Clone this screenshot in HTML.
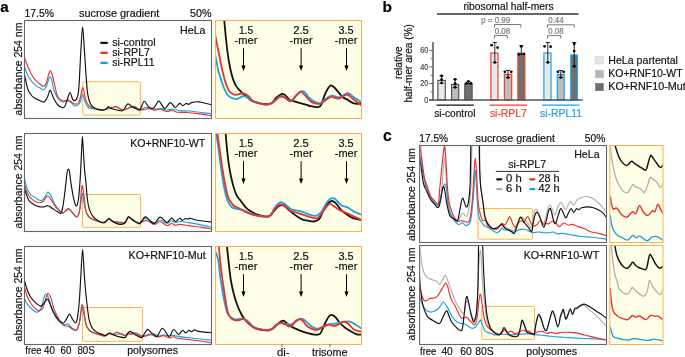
<!DOCTYPE html>
<html><head><meta charset="utf-8"><style>
html,body{margin:0;padding:0;background:#fff;width:685px;height:357px;overflow:hidden;}
svg{display:block;will-change:transform;}
text{font-family:"Liberation Sans", sans-serif;stroke:currentColor;stroke-width:0.18px;}
</style></head><body>
<svg width="685" height="357" viewBox="0 0 685 357" font-family='"Liberation Sans", sans-serif'><defs><clipPath id="cam0"><rect x="25" y="21" width="186" height="97"/></clipPath><clipPath id="car0"><rect x="216" y="21" width="145" height="97"/></clipPath><clipPath id="cam1"><rect x="25" y="134" width="186" height="97"/></clipPath><clipPath id="car1"><rect x="216" y="134" width="145" height="97"/></clipPath><clipPath id="cam2"><rect x="25" y="247" width="186" height="97"/></clipPath><clipPath id="car2"><rect x="216" y="247" width="145" height="97"/></clipPath><clipPath id="cc1"><rect x="420.3" y="146" width="185.6" height="96"/></clipPath><clipPath id="cc2"><rect x="420.3" y="246" width="185.6" height="97.8"/></clipPath><clipPath id="ccr1"><rect x="610.3" y="146" width="52.2" height="96"/></clipPath><clipPath id="ccr2"><rect x="610.3" y="246" width="52.2" height="97.8"/></clipPath></defs><text x="0.2" y="11.6" font-size="15.2" text-anchor="start" fill="#000" style="color:#000" font-weight="bold" >a</text>
<text x="24.5" y="17" font-size="10.3" text-anchor="start" fill="#111" style="color:#111" font-weight="normal"  textLength="29.50" lengthAdjust="spacingAndGlyphs">17.5%</text>
<text x="79.0" y="17" font-size="10.3" text-anchor="start" fill="#111" style="color:#111" font-weight="normal"  textLength="80.30" lengthAdjust="spacingAndGlyphs">sucrose gradient</text>
<text x="190.0" y="17" font-size="10.3" text-anchor="start" fill="#111" style="color:#111" font-weight="normal"  textLength="21.50" lengthAdjust="spacingAndGlyphs">50%</text>
<rect x="215.5" y="20.5" width="146" height="98" fill="#FFFFE8" stroke="#FBB24E" stroke-width="1" rx="0" />
<text x="22" y="69" font-size="10.5" text-anchor="middle" fill="#111" style="color:#111" font-weight="normal" transform="rotate(-90 22 69)" >absorbance 254 nm</text>
<rect x="215.5" y="133.5" width="146" height="98" fill="#FFFFE8" stroke="#FBB24E" stroke-width="1" rx="0" />
<text x="22" y="182" font-size="10.5" text-anchor="middle" fill="#111" style="color:#111" font-weight="normal" transform="rotate(-90 22 182)" >absorbance 254 nm</text>
<rect x="215.5" y="246.5" width="146" height="98" fill="#FFFFE8" stroke="#FBB24E" stroke-width="1" rx="0" />
<text x="22" y="295" font-size="10.5" text-anchor="middle" fill="#111" style="color:#111" font-weight="normal" transform="rotate(-90 22 295)" >absorbance 254 nm</text>
<rect x="82.8" y="81.8" width="57.6" height="33.2" fill="#FFFFE8" stroke="#FBB24E" stroke-width="1" rx="1" />
<rect x="82.6" y="194.5" width="58" height="32.8" fill="#FFFFE8" stroke="#FBB24E" stroke-width="1" rx="1" />
<rect x="82.6" y="307.5" width="60" height="33.8" fill="#FFFFE8" stroke="#FBB24E" stroke-width="1" rx="1" />
<path d="M24.40,66.00 C24.93,67.50 26.37,72.43 27.60,75.00 C28.83,77.57 30.40,79.63 31.80,81.40 C33.20,83.17 34.63,84.50 36.00,85.60 C37.37,86.70 38.72,87.30 40.00,88.00 C41.28,88.70 42.62,90.13 43.70,89.80 C44.78,89.47 45.70,87.63 46.50,86.00 C47.30,84.37 47.92,81.58 48.50,80.00 C49.08,78.42 49.45,76.50 50.00,76.50 C50.55,76.50 51.23,77.98 51.80,80.00 C52.37,82.02 52.87,86.48 53.40,88.60 C53.93,90.72 54.25,91.03 55.00,92.70 C55.75,94.37 56.60,97.05 57.90,98.60 C59.20,100.15 61.17,101.67 62.80,102.00 C64.43,102.33 66.33,100.52 67.70,100.60 C69.07,100.68 69.85,101.60 71.00,102.50 C72.15,103.40 73.18,105.83 74.60,106.00 C76.02,106.17 78.40,104.83 79.50,103.50 C80.60,102.17 80.68,99.55 81.20,98.00 C81.72,96.45 82.13,94.20 82.60,94.20 C83.07,94.20 83.53,96.62 84.00,98.00 C84.47,99.38 84.68,100.92 85.40,102.50 C86.12,104.08 87.32,106.52 88.30,107.50 C89.28,108.48 90.02,108.10 91.30,108.40 C92.58,108.70 94.50,109.03 96.00,109.30 C97.50,109.57 98.73,109.97 100.30,110.00 C101.87,110.03 103.78,109.75 105.40,109.50 C107.02,109.25 108.23,108.92 110.00,108.50 C111.77,108.08 114.33,106.92 116.00,107.00 C117.67,107.08 118.50,108.58 120.00,109.00 C121.50,109.42 123.50,109.75 125.00,109.50 C126.50,109.25 127.40,108.03 129.00,107.50 C130.60,106.97 133.27,106.22 134.60,106.30 C135.93,106.38 136.07,107.47 137.00,108.00 C137.93,108.53 138.92,109.53 140.20,109.50 C141.48,109.47 143.20,108.08 144.70,107.80 C146.20,107.52 147.52,107.55 149.20,107.80 C150.88,108.05 152.93,109.22 154.80,109.30 C156.67,109.38 158.55,108.18 160.40,108.30 C162.25,108.42 163.85,109.88 165.90,110.00 C167.95,110.12 170.42,108.88 172.70,109.00 C174.98,109.12 176.82,110.37 179.60,110.70 C182.38,111.03 186.13,110.73 189.40,111.00 C192.67,111.27 195.60,111.87 199.20,112.30 C202.80,112.73 209.03,113.38 211.00,113.60" fill="none" stroke="#1BA1E2" stroke-width="1.15" stroke-linejoin="round" stroke-linecap="round" clip-path="url(#cam0)"/>
<path d="M24.40,57.60 C24.93,59.00 26.37,63.10 27.60,66.00 C28.83,68.90 30.40,72.55 31.80,75.00 C33.20,77.45 34.60,79.17 36.00,80.70 C37.40,82.23 38.92,83.27 40.20,84.20 C41.48,85.13 42.70,86.42 43.70,86.30 C44.70,86.18 45.40,85.38 46.20,83.50 C47.00,81.62 47.80,77.10 48.50,75.00 C49.20,72.90 49.77,70.90 50.40,70.90 C51.03,70.90 51.67,73.02 52.30,75.00 C52.93,76.98 53.42,79.52 54.20,82.80 C54.98,86.08 56.05,91.98 57.00,94.70 C57.95,97.42 58.77,98.03 59.90,99.10 C61.03,100.17 62.50,100.93 63.80,101.10 C65.10,101.27 66.55,100.02 67.70,100.10 C68.85,100.18 69.55,100.95 70.70,101.60 C71.85,102.25 73.30,103.77 74.60,104.00 C75.90,104.23 77.52,104.22 78.50,103.00 C79.48,101.78 79.82,99.27 80.50,96.70 C81.18,94.13 81.95,88.10 82.60,87.60 C83.25,87.10 83.77,91.37 84.40,93.70 C85.03,96.03 85.58,99.55 86.40,101.60 C87.22,103.65 88.32,105.02 89.30,106.00 C90.28,106.98 91.18,107.08 92.30,107.50 C93.42,107.92 94.67,108.08 96.00,108.50 C97.33,108.92 98.73,109.88 100.30,110.00 C101.87,110.12 104.12,109.57 105.40,109.20 C106.68,108.83 107.23,108.00 108.00,107.80 C108.77,107.60 109.17,108.05 110.00,108.00 C110.83,107.95 111.97,107.78 113.00,107.50 C114.03,107.22 115.02,106.03 116.20,106.30 C117.38,106.57 118.70,108.53 120.10,109.10 C121.50,109.67 123.12,109.88 124.60,109.70 C126.08,109.52 127.52,108.47 129.00,108.00 C130.48,107.53 132.18,106.80 133.50,106.90 C134.82,107.00 135.78,108.08 136.90,108.60 C138.02,109.12 138.90,109.88 140.20,110.00 C141.50,110.12 143.20,109.53 144.70,109.30 C146.20,109.07 147.52,108.45 149.20,108.60 C150.88,108.75 152.93,110.08 154.80,110.20 C156.67,110.32 158.38,109.08 160.40,109.30 C162.42,109.52 164.92,111.33 166.90,111.50 C168.88,111.67 170.52,110.17 172.30,110.30 C174.08,110.43 175.07,111.93 177.60,112.30 C180.13,112.67 183.90,112.23 187.50,112.50 C191.10,112.77 195.28,113.38 199.20,113.90 C203.12,114.42 209.03,115.32 211.00,115.60" fill="none" stroke="#E8322B" stroke-width="1.15" stroke-linejoin="round" stroke-linecap="round" clip-path="url(#cam0)"/>
<path d="M24.40,74.40 C24.93,76.73 26.60,85.13 27.60,88.40 C28.60,91.67 29.33,92.43 30.40,94.00 C31.47,95.57 32.55,96.75 34.00,97.80 C35.45,98.85 37.40,99.60 39.10,100.30 C40.80,101.00 42.80,102.55 44.20,102.00 C45.60,101.45 46.53,98.95 47.50,97.00 C48.47,95.05 49.20,90.63 50.00,90.30 C50.80,89.97 51.55,93.38 52.30,95.00 C53.05,96.62 53.57,98.33 54.50,100.00 C55.43,101.67 56.67,103.75 57.90,105.00 C59.13,106.25 60.75,107.25 61.90,107.50 C63.05,107.75 63.90,107.82 64.80,106.50 C65.70,105.18 66.45,101.93 67.30,99.60 C68.15,97.27 69.02,92.58 69.90,92.50 C70.78,92.42 71.73,97.75 72.60,99.10 C73.47,100.45 74.28,101.00 75.10,100.60 C75.92,100.20 76.85,99.15 77.50,96.70 C78.15,94.25 78.45,93.35 79.00,85.90 C79.55,78.45 80.20,61.82 80.80,52.00 C81.40,42.18 81.98,27.00 82.60,27.00 C83.22,27.00 83.87,43.17 84.50,52.00 C85.13,60.83 85.85,72.88 86.40,80.00 C86.95,87.12 87.15,90.78 87.80,94.70 C88.45,98.62 89.23,101.30 90.30,103.50 C91.37,105.70 92.80,106.88 94.20,107.90 C95.60,108.92 97.12,109.25 98.70,109.60 C100.28,109.95 102.40,110.18 103.70,110.00 C105.00,109.82 105.67,109.05 106.50,108.50 C107.33,107.95 107.78,106.67 108.70,106.70 C109.62,106.73 110.48,108.12 112.00,108.70 C113.52,109.28 116.08,109.85 117.80,110.20 C119.52,110.55 121.18,111.08 122.30,110.80 C123.42,110.52 123.57,109.65 124.50,108.50 C125.43,107.35 126.58,104.17 127.90,103.90 C129.22,103.63 130.82,106.03 132.40,106.90 C133.98,107.77 136.10,108.63 137.40,109.10 C138.70,109.57 139.07,111.00 140.20,109.70 C141.33,108.40 142.80,101.77 144.20,101.30 C145.60,100.83 147.02,105.78 148.60,106.90 C150.18,108.02 152.10,108.93 153.70,108.00 C155.30,107.07 157.07,102.17 158.20,101.30 C159.33,100.43 159.38,101.60 160.50,102.80 C161.62,104.00 163.27,108.53 164.90,108.50 C166.53,108.47 168.58,102.77 170.30,102.60 C172.02,102.43 173.65,107.37 175.20,107.50 C176.75,107.63 178.35,103.72 179.60,103.40 C180.85,103.08 181.55,105.60 182.70,105.60 C183.85,105.60 185.47,103.60 186.50,103.40 C187.53,103.20 188.08,104.53 188.90,104.40 C189.72,104.27 190.00,103.05 191.40,102.60 C192.80,102.15 195.50,101.72 197.30,101.70 C199.10,101.68 200.57,102.15 202.20,102.50 C203.83,102.85 205.63,103.45 207.10,103.80 C208.57,104.15 210.35,104.47 211.00,104.60" fill="none" stroke="#111" stroke-width="1.15" stroke-linejoin="round" stroke-linecap="round" clip-path="url(#cam0)"/>
<path d="M24.90,180.10 C25.25,181.50 26.08,186.13 27.00,188.50 C27.92,190.87 29.00,192.77 30.40,194.30 C31.80,195.83 33.58,196.63 35.40,197.70 C37.22,198.77 39.62,200.98 41.30,200.70 C42.98,200.42 44.38,197.43 45.50,196.00 C46.62,194.57 47.02,191.97 48.00,192.10 C48.98,192.23 50.28,194.75 51.40,196.80 C52.52,198.85 53.45,202.22 54.70,204.40 C55.95,206.58 57.63,208.50 58.90,209.90 C60.17,211.30 61.28,212.53 62.30,212.80 C63.32,213.07 63.87,212.07 65.00,211.50 C66.13,210.93 67.83,209.15 69.10,209.40 C70.37,209.65 71.32,211.72 72.60,213.00 C73.88,214.28 75.68,217.27 76.80,217.10 C77.92,216.93 78.60,214.45 79.30,212.00 C80.00,209.55 80.48,205.52 81.00,202.40 C81.52,199.28 81.82,192.83 82.40,193.30 C82.98,193.77 83.68,201.58 84.50,205.20 C85.32,208.82 86.38,212.87 87.30,215.00 C88.22,217.13 88.72,217.12 90.00,218.00 C91.28,218.88 93.00,219.58 95.00,220.30 C97.00,221.02 100.33,222.05 102.00,222.30 C103.67,222.55 103.85,222.48 105.00,221.80 C106.15,221.12 107.60,218.33 108.90,218.20 C110.20,218.07 111.22,220.37 112.80,221.00 C114.38,221.63 116.53,221.75 118.40,222.00 C120.27,222.25 122.78,222.67 124.00,222.50 C125.22,222.33 124.95,221.97 125.70,221.00 C126.45,220.03 127.28,216.95 128.50,216.70 C129.72,216.45 131.32,218.53 133.00,219.50 C134.68,220.47 137.27,222.12 138.60,222.50 C139.93,222.88 139.88,222.47 141.00,221.80 C142.12,221.13 143.83,218.72 145.30,218.50 C146.77,218.28 148.18,219.77 149.80,220.50 C151.42,221.23 153.25,222.98 155.00,222.90 C156.75,222.82 158.33,219.90 160.30,220.00 C162.27,220.10 164.93,223.37 166.80,223.50 C168.67,223.63 170.03,220.97 171.50,220.80 C172.97,220.63 174.23,222.38 175.60,222.50 C176.97,222.62 177.25,221.43 179.70,221.50 C182.15,221.57 186.58,222.30 190.30,222.90 C194.02,223.50 198.47,224.35 202.00,225.10 C205.53,225.85 209.92,227.02 211.50,227.40" fill="none" stroke="#1BA1E2" stroke-width="1.15" stroke-linejoin="round" stroke-linecap="round" clip-path="url(#cam1)"/>
<path d="M24.90,185.10 C25.25,186.37 25.80,190.32 27.00,192.70 C28.20,195.08 30.13,197.73 32.10,199.40 C34.07,201.07 36.98,202.35 38.80,202.70 C40.62,203.05 41.55,202.62 43.00,201.50 C44.45,200.38 46.10,196.22 47.50,196.00 C48.90,195.78 50.05,198.38 51.40,200.20 C52.75,202.02 54.07,204.95 55.60,206.90 C57.13,208.85 59.35,210.88 60.60,211.90 C61.85,212.92 62.20,213.30 63.10,213.00 C64.00,212.70 65.00,210.82 66.00,210.10 C67.00,209.38 68.00,208.23 69.10,208.70 C70.20,209.17 71.32,211.57 72.60,212.90 C73.88,214.23 75.63,217.05 76.80,216.70 C77.97,216.35 78.85,215.05 79.60,210.80 C80.35,206.55 80.83,195.40 81.30,191.20 C81.77,187.00 81.93,184.67 82.40,185.60 C82.87,186.53 83.52,192.60 84.10,196.80 C84.68,201.00 85.02,207.42 85.90,210.80 C86.78,214.18 87.88,215.52 89.40,217.10 C90.92,218.68 92.90,219.37 95.00,220.30 C97.10,221.23 100.33,222.37 102.00,222.70 C103.67,223.03 103.85,222.93 105.00,222.30 C106.15,221.67 107.60,219.05 108.90,218.90 C110.20,218.75 111.22,220.77 112.80,221.40 C114.38,222.03 116.53,222.37 118.40,222.70 C120.27,223.03 122.78,223.53 124.00,223.40 C125.22,223.27 124.95,222.90 125.70,221.90 C126.45,220.90 127.28,217.63 128.50,217.40 C129.72,217.17 131.32,219.47 133.00,220.50 C134.68,221.53 137.30,223.18 138.60,223.60 C139.90,224.02 139.68,223.52 140.80,223.00 C141.92,222.48 143.80,220.68 145.30,220.50 C146.80,220.32 148.30,221.23 149.80,221.90 C151.30,222.57 152.55,224.52 154.30,224.50 C156.05,224.48 158.22,221.63 160.30,221.80 C162.38,221.97 164.93,225.22 166.80,225.50 C168.67,225.78 170.03,223.53 171.50,223.50 C172.97,223.47 174.23,225.15 175.60,225.30 C176.97,225.45 177.25,224.30 179.70,224.40 C182.15,224.50 186.58,225.40 190.30,225.90 C194.02,226.40 198.47,226.87 202.00,227.40 C205.53,227.93 209.92,228.82 211.50,229.10" fill="none" stroke="#E8322B" stroke-width="1.15" stroke-linejoin="round" stroke-linecap="round" clip-path="url(#cam1)"/>
<path d="M24.90,190.10 C25.53,191.78 27.23,197.82 28.70,200.20 C30.17,202.58 32.02,203.33 33.70,204.40 C35.38,205.47 37.12,206.18 38.80,206.60 C40.48,207.02 42.27,207.05 43.80,206.90 C45.33,206.75 46.60,205.47 48.00,205.70 C49.40,205.93 50.67,207.32 52.20,208.30 C53.73,209.28 55.73,210.77 57.20,211.60 C58.67,212.43 60.07,214.07 61.00,213.30 C61.93,212.53 62.22,210.05 62.80,207.00 C63.38,203.95 63.98,199.00 64.50,195.00 C65.02,191.00 65.45,186.83 65.90,183.00 C66.35,179.17 66.78,174.32 67.20,172.00 C67.62,169.68 68.00,169.10 68.40,169.10 C68.80,169.10 69.25,170.18 69.60,172.00 C69.95,173.82 69.88,175.87 70.50,180.00 C71.12,184.13 72.37,192.48 73.30,196.80 C74.23,201.12 75.28,205.20 76.10,205.90 C76.92,206.60 77.62,204.15 78.20,201.00 C78.78,197.85 79.18,192.17 79.60,187.00 C80.02,181.83 80.37,176.17 80.70,170.00 C81.03,163.83 81.32,155.58 81.60,150.00 C81.88,144.42 82.12,136.50 82.40,136.50 C82.68,136.50 82.93,144.42 83.30,150.00 C83.67,155.58 84.17,164.67 84.60,170.00 C85.03,175.33 85.45,177.30 85.90,182.00 C86.35,186.70 86.72,193.63 87.30,198.20 C87.88,202.77 88.47,206.37 89.40,209.40 C90.33,212.43 91.50,214.53 92.90,216.40 C94.30,218.27 96.05,219.55 97.80,220.60 C99.55,221.65 102.03,222.55 103.40,222.70 C104.77,222.85 105.08,222.12 106.00,221.50 C106.92,220.88 107.77,218.95 108.90,219.00 C110.03,219.05 111.58,221.07 112.80,221.80 C114.02,222.53 114.70,222.95 116.20,223.40 C117.70,223.85 120.22,224.73 121.80,224.50 C123.38,224.27 124.58,223.27 125.70,222.00 C126.82,220.73 127.28,217.18 128.50,216.90 C129.72,216.62 131.32,219.18 133.00,220.30 C134.68,221.42 137.30,223.23 138.60,223.60 C139.90,223.97 139.68,223.62 140.80,222.50 C141.92,221.38 143.80,217.23 145.30,216.90 C146.80,216.57 148.30,219.42 149.80,220.50 C151.30,221.58 152.55,223.97 154.30,223.40 C156.05,222.83 158.22,217.27 160.30,217.10 C162.38,216.93 164.93,222.22 166.80,222.40 C168.67,222.58 170.03,218.35 171.50,218.20 C172.97,218.05 174.23,221.50 175.60,221.50 C176.97,221.50 178.58,218.38 179.70,218.20 C180.82,218.02 181.32,220.35 182.30,220.40 C183.28,220.45 184.67,218.70 185.60,218.50 C186.53,218.30 187.12,219.25 187.90,219.20 C188.68,219.15 188.92,218.07 190.30,218.20 C191.68,218.33 193.85,219.50 196.20,220.00 C198.55,220.50 201.85,220.87 204.40,221.20 C206.95,221.53 210.32,221.87 211.50,222.00" fill="none" stroke="#111" stroke-width="1.15" stroke-linejoin="round" stroke-linecap="round" clip-path="url(#cam1)"/>
<path d="M24.90,299.40 C25.25,300.10 25.80,301.93 27.00,303.60 C28.20,305.27 30.42,307.95 32.10,309.40 C33.78,310.85 35.57,312.57 37.10,312.30 C38.63,312.03 40.18,310.23 41.30,307.80 C42.42,305.37 43.10,299.95 43.80,297.70 C44.50,295.45 44.67,294.17 45.50,294.30 C46.33,294.43 47.55,295.55 48.80,298.50 C50.05,301.45 51.45,308.37 53.00,312.00 C54.55,315.63 56.42,318.22 58.10,320.30 C59.78,322.38 61.38,323.83 63.10,324.50 C64.82,325.17 66.82,323.63 68.40,324.30 C69.98,324.97 71.20,327.57 72.60,328.50 C74.00,329.43 75.63,330.98 76.80,329.90 C77.97,328.82 78.87,324.98 79.60,322.00 C80.33,319.02 80.73,314.42 81.20,312.00 C81.67,309.58 81.93,307.00 82.40,307.50 C82.87,308.00 83.30,311.85 84.00,315.00 C84.70,318.15 85.23,323.57 86.60,326.40 C87.97,329.23 90.10,330.65 92.20,332.00 C94.30,333.35 97.07,333.87 99.20,334.50 C101.33,335.13 103.28,336.05 105.00,335.80 C106.72,335.55 107.82,333.18 109.50,333.00 C111.18,332.82 113.23,334.60 115.10,334.70 C116.97,334.80 119.02,333.52 120.70,333.60 C122.38,333.68 123.90,335.30 125.20,335.20 C126.50,335.10 127.37,333.27 128.50,333.00 C129.63,332.73 130.68,333.60 132.00,333.60 C133.32,333.60 134.73,332.63 136.40,333.00 C138.07,333.37 140.13,335.52 142.00,335.80 C143.87,336.08 145.93,335.02 147.60,334.70 C149.27,334.38 150.77,333.98 152.00,333.90 C153.23,333.82 153.92,333.82 155.00,334.20 C156.08,334.58 157.13,336.07 158.50,336.20 C159.87,336.33 161.43,335.07 163.20,335.00 C164.97,334.93 167.33,335.70 169.10,335.80 C170.87,335.90 171.25,335.33 173.80,335.60 C176.35,335.87 180.67,336.92 184.40,337.40 C188.13,337.88 191.68,338.02 196.20,338.50 C200.72,338.98 208.95,340.00 211.50,340.30" fill="none" stroke="#1BA1E2" stroke-width="1.15" stroke-linejoin="round" stroke-linecap="round" clip-path="url(#cam2)"/>
<path d="M24.90,288.50 C25.25,289.75 26.08,293.63 27.00,296.00 C27.92,298.37 29.00,300.60 30.40,302.70 C31.80,304.80 33.87,307.25 35.40,308.60 C36.93,309.95 38.33,310.93 39.60,310.80 C40.87,310.67 41.88,310.13 43.00,307.80 C44.12,305.47 45.42,299.18 46.30,296.80 C47.18,294.42 47.45,293.07 48.30,293.50 C49.15,293.93 50.47,296.88 51.40,299.40 C52.33,301.92 52.78,305.53 53.90,308.60 C55.02,311.67 56.70,315.28 58.10,317.80 C59.50,320.32 61.28,322.38 62.30,323.70 C63.32,325.02 63.18,325.25 64.20,325.70 C65.22,326.15 67.00,325.82 68.40,326.40 C69.80,326.98 71.20,328.62 72.60,329.20 C74.00,329.78 75.63,331.30 76.80,329.90 C77.97,328.50 78.85,324.42 79.60,320.80 C80.35,317.18 80.83,310.88 81.30,308.20 C81.77,305.52 81.98,304.47 82.40,304.70 C82.82,304.93 83.22,306.45 83.80,309.60 C84.38,312.75 84.97,320.10 85.90,323.60 C86.83,327.10 87.88,328.97 89.40,330.60 C90.92,332.23 92.90,332.58 95.00,333.40 C97.10,334.22 100.33,335.05 102.00,335.50 C103.67,335.95 103.75,336.42 105.00,336.10 C106.25,335.78 108.20,333.83 109.50,333.60 C110.80,333.37 111.58,334.95 112.80,334.70 C114.02,334.45 115.48,332.23 116.80,332.10 C118.12,331.97 119.30,333.28 120.70,333.90 C122.10,334.52 123.90,335.77 125.20,335.80 C126.50,335.83 127.38,334.38 128.50,334.10 C129.62,333.82 130.87,334.28 131.90,334.10 C132.93,333.92 133.58,332.82 134.70,333.00 C135.82,333.18 137.38,334.60 138.60,335.20 C139.82,335.80 140.50,336.55 142.00,336.60 C143.50,336.65 146.12,335.82 147.60,335.50 C149.08,335.18 149.60,334.55 150.90,334.70 C152.20,334.85 154.13,336.02 155.40,336.40 C156.67,336.78 157.20,337.13 158.50,337.00 C159.80,336.87 161.43,335.45 163.20,335.60 C164.97,335.75 167.33,337.70 169.10,337.90 C170.87,338.10 172.23,336.70 173.80,336.80 C175.37,336.90 175.75,338.02 178.50,338.50 C181.25,338.98 186.38,339.25 190.30,339.70 C194.22,340.15 198.47,340.67 202.00,341.20 C205.53,341.73 209.92,342.62 211.50,342.90" fill="none" stroke="#E8322B" stroke-width="1.15" stroke-linejoin="round" stroke-linecap="round" clip-path="url(#cam2)"/>
<path d="M24.90,281.70 C25.25,282.97 26.08,286.78 27.00,289.30 C27.92,291.82 29.00,294.57 30.40,296.80 C31.80,299.03 33.72,301.15 35.40,302.70 C37.08,304.25 39.23,305.82 40.50,306.10 C41.77,306.38 42.03,305.43 43.00,304.40 C43.97,303.37 45.47,300.73 46.30,299.90 C47.13,299.07 47.30,298.52 48.00,299.40 C48.70,300.28 49.52,302.97 50.50,305.20 C51.48,307.43 52.63,310.42 53.90,312.80 C55.17,315.18 56.92,317.97 58.10,319.50 C59.28,321.03 60.10,321.43 61.00,322.00 C61.90,322.57 62.62,323.33 63.50,322.90 C64.38,322.47 65.30,320.87 66.30,319.40 C67.30,317.93 68.45,314.10 69.50,314.10 C70.55,314.10 71.50,318.00 72.60,319.40 C73.70,320.80 75.17,323.67 76.10,322.50 C77.03,321.33 77.62,316.65 78.20,312.40 C78.78,308.15 79.15,303.23 79.60,297.00 C80.05,290.77 80.40,282.92 80.90,275.00 C81.40,267.08 82.03,249.50 82.60,249.50 C83.17,249.50 83.82,268.25 84.30,275.00 C84.78,281.75 85.00,284.70 85.50,290.00 C86.00,295.30 86.65,301.67 87.30,306.80 C87.95,311.93 88.47,317.12 89.40,320.80 C90.33,324.48 91.50,326.92 92.90,328.90 C94.30,330.88 96.05,331.72 97.80,332.70 C99.55,333.68 102.12,334.33 103.40,334.80 C104.68,335.27 104.48,335.80 105.50,335.50 C106.52,335.20 108.08,333.05 109.50,333.00 C110.92,332.95 112.32,334.55 114.00,335.20 C115.68,335.85 117.73,336.52 119.60,336.90 C121.47,337.28 123.90,338.05 125.20,337.50 C126.50,336.95 126.57,334.63 127.40,333.60 C128.23,332.57 129.17,331.30 130.20,331.30 C131.23,331.30 132.20,332.72 133.60,333.60 C135.00,334.48 137.20,335.95 138.60,336.60 C140.00,337.25 140.97,338.10 142.00,337.50 C143.03,336.90 143.87,334.35 144.80,333.00 C145.73,331.65 146.58,329.50 147.60,329.40 C148.62,329.30 149.60,331.33 150.90,332.40 C152.20,333.47 154.30,335.20 155.40,335.80 C156.50,336.40 156.30,337.25 157.50,336.00 C158.70,334.75 160.67,328.22 162.60,328.30 C164.53,328.38 167.27,336.30 169.10,336.50 C170.93,336.70 172.03,329.85 173.60,329.50 C175.17,329.15 177.00,334.27 178.50,334.40 C180.00,334.53 181.42,330.53 182.60,330.30 C183.78,330.07 184.52,333.00 185.60,333.00 C186.68,333.00 188.12,330.50 189.10,330.30 C190.08,330.10 190.62,331.87 191.50,331.80 C192.38,331.73 193.42,330.02 194.40,329.90 C195.38,329.78 195.73,330.73 197.40,331.10 C199.07,331.47 202.05,331.85 204.40,332.10 C206.75,332.35 210.32,332.52 211.50,332.60" fill="none" stroke="#111" stroke-width="1.15" stroke-linejoin="round" stroke-linecap="round" clip-path="url(#cam2)"/>
<path d="M224.10,19.00 C224.37,21.83 225.13,30.50 225.70,36.00 C226.27,41.50 226.92,47.50 227.50,52.00 C228.08,56.50 228.65,59.83 229.20,63.00 C229.75,66.17 230.13,68.23 230.80,71.00 C231.47,73.77 232.33,77.12 233.20,79.60 C234.07,82.08 234.95,84.15 236.00,85.90 C237.05,87.65 238.33,88.82 239.50,90.10 C240.67,91.38 241.72,92.43 243.00,93.60 C244.28,94.77 245.80,95.93 247.20,97.10 C248.60,98.27 249.77,99.67 251.40,100.60 C253.03,101.53 254.73,102.13 257.00,102.70 C259.27,103.27 262.63,103.90 265.00,104.00 C267.37,104.10 269.23,104.42 271.20,103.30 C273.17,102.18 274.93,98.88 276.80,97.30 C278.67,95.72 280.88,94.03 282.40,93.80 C283.92,93.57 284.73,94.92 285.90,95.90 C287.07,96.88 288.12,98.83 289.40,99.70 C290.68,100.57 291.97,100.57 293.60,101.10 C295.23,101.63 297.30,102.37 299.20,102.90 C301.10,103.43 303.10,103.77 305.00,104.30 C306.90,104.83 308.50,105.63 310.60,106.10 C312.70,106.57 315.85,107.28 317.60,107.10 C319.35,106.92 319.93,106.98 321.10,105.00 C322.27,103.02 323.43,98.00 324.60,95.20 C325.77,92.40 327.05,89.83 328.10,88.20 C329.15,86.57 329.85,85.52 330.90,85.40 C331.95,85.28 333.12,86.33 334.40,87.50 C335.68,88.67 337.20,90.77 338.60,92.40 C340.00,94.03 341.40,96.13 342.80,97.30 C344.20,98.47 345.37,98.47 347.00,99.40 C348.63,100.33 350.73,102.15 352.60,102.90 C354.47,103.65 356.72,104.07 358.20,103.90 C359.68,103.73 360.95,102.23 361.50,101.90" fill="none" stroke="#111" stroke-width="1.8" stroke-linejoin="round" stroke-linecap="round" clip-path="url(#car0)"/>
<path d="M215.40,55.80 C215.92,58.47 217.73,68.43 218.50,71.80 C219.27,75.17 219.18,73.53 220.00,76.00 C220.82,78.47 222.13,83.43 223.40,86.60 C224.67,89.77 225.97,93.02 227.60,95.00 C229.23,96.98 231.57,97.85 233.20,98.50 C234.83,99.15 235.77,99.30 237.40,98.90 C239.03,98.50 241.37,96.33 243.00,96.10 C244.63,95.87 245.57,96.63 247.20,97.50 C248.83,98.37 251.17,100.43 252.80,101.30 C254.43,102.17 254.97,102.17 257.00,102.70 C259.03,103.23 262.63,104.40 265.00,104.50 C267.37,104.60 269.37,104.05 271.20,103.30 C273.03,102.55 274.70,100.97 276.00,100.00 C277.30,99.03 277.92,98.03 279.00,97.50 C280.08,96.97 281.33,96.63 282.50,96.80 C283.67,96.97 284.85,97.83 286.00,98.50 C287.15,99.17 288.37,100.47 289.40,100.80 C290.43,101.13 291.10,101.30 292.20,100.50 C293.30,99.70 294.45,97.52 296.00,96.00 C297.55,94.48 300.00,92.00 301.50,91.40 C303.00,90.80 303.72,91.30 305.00,92.40 C306.28,93.50 307.57,96.42 309.20,98.00 C310.83,99.58 312.93,101.02 314.80,101.90 C316.67,102.78 318.53,103.83 320.40,103.30 C322.27,102.77 324.13,99.98 326.00,98.70 C327.87,97.42 329.50,95.83 331.60,95.60 C333.70,95.37 336.50,97.42 338.60,97.30 C340.70,97.18 342.57,95.60 344.20,94.90 C345.83,94.20 346.77,92.70 348.40,93.10 C350.03,93.50 351.82,95.77 354.00,97.30 C356.18,98.83 360.25,101.47 361.50,102.30" fill="none" stroke="#1BA1E2" stroke-width="1.8" stroke-linejoin="round" stroke-linecap="round" clip-path="url(#car0)"/>
<path d="M215.40,36.30 C215.92,38.85 217.43,46.32 218.50,51.60 C219.57,56.88 220.97,64.10 221.80,68.00 C222.63,71.90 222.88,72.60 223.50,75.00 C224.12,77.40 224.58,79.77 225.50,82.40 C226.42,85.03 227.72,88.82 229.00,90.80 C230.28,92.78 231.80,93.65 233.20,94.30 C234.60,94.95 236.00,94.87 237.40,94.70 C238.80,94.53 240.43,93.48 241.60,93.30 C242.77,93.12 243.23,93.13 244.40,93.60 C245.57,94.07 247.20,94.93 248.60,96.10 C250.00,97.27 251.40,99.55 252.80,100.60 C254.20,101.65 254.97,101.73 257.00,102.40 C259.03,103.07 262.63,104.45 265.00,104.60 C267.37,104.75 269.47,104.05 271.20,103.30 C272.93,102.55 274.23,101.10 275.40,100.10 C276.57,99.10 277.15,98.00 278.20,97.30 C279.25,96.60 280.53,95.78 281.70,95.90 C282.87,96.02 283.92,97.18 285.20,98.00 C286.48,98.82 288.23,100.38 289.40,100.80 C290.57,101.22 291.15,101.32 292.20,100.50 C293.25,99.68 294.30,97.37 295.70,95.90 C297.10,94.43 299.08,91.82 300.60,91.70 C302.12,91.58 303.37,93.80 304.80,95.20 C306.23,96.60 307.77,98.82 309.20,100.10 C310.63,101.38 311.53,102.32 313.40,102.90 C315.27,103.48 318.30,104.07 320.40,103.60 C322.50,103.13 324.25,101.20 326.00,100.10 C327.75,99.00 329.50,97.40 330.90,97.00 C332.30,96.60 333.12,97.42 334.40,97.70 C335.68,97.98 337.20,98.88 338.60,98.70 C340.00,98.52 341.40,97.30 342.80,96.60 C344.20,95.90 345.60,94.38 347.00,94.50 C348.40,94.62 349.80,96.25 351.20,97.30 C352.60,98.35 353.68,99.43 355.40,100.80 C357.12,102.17 360.48,104.72 361.50,105.50" fill="none" stroke="#E8322B" stroke-width="1.8" stroke-linejoin="round" stroke-linecap="round" clip-path="url(#car0)"/>
<path d="M225.50,132.00 C225.75,134.82 226.38,143.08 227.00,148.90 C227.62,154.72 228.30,161.28 229.20,166.90 C230.10,172.52 231.20,177.93 232.40,182.60 C233.60,187.27 235.05,191.92 236.40,194.90 C237.75,197.88 239.40,198.98 240.50,200.50 C241.60,202.02 241.92,202.63 243.00,204.00 C244.08,205.37 245.63,207.45 247.00,208.70 C248.37,209.95 249.80,210.63 251.20,211.50 C252.60,212.37 253.77,213.20 255.40,213.90 C257.03,214.60 259.13,215.23 261.00,215.70 C262.87,216.17 265.08,216.70 266.60,216.70 C268.12,216.70 268.93,216.57 270.10,215.70 C271.27,214.83 272.32,212.97 273.60,211.50 C274.88,210.03 276.52,207.95 277.80,206.90 C279.08,205.85 280.13,205.30 281.30,205.20 C282.47,205.10 283.52,205.48 284.80,206.30 C286.08,207.12 287.60,208.88 289.00,210.10 C290.40,211.32 291.70,212.45 293.20,213.60 C294.70,214.75 296.53,216.05 298.00,217.00 C299.47,217.95 300.40,218.68 302.00,219.30 C303.60,219.92 305.50,220.35 307.60,220.70 C309.70,221.05 312.62,221.75 314.60,221.40 C316.58,221.05 317.85,220.82 319.50,218.60 C321.15,216.38 322.97,210.75 324.50,208.10 C326.03,205.45 327.42,203.88 328.70,202.70 C329.98,201.52 331.03,200.93 332.20,201.00 C333.37,201.07 334.18,201.57 335.70,203.10 C337.22,204.63 339.43,208.32 341.30,210.20 C343.17,212.08 345.03,213.12 346.90,214.40 C348.77,215.68 350.07,216.97 352.50,217.90 C354.93,218.83 360.00,219.65 361.50,220.00" fill="none" stroke="#111" stroke-width="1.8" stroke-linejoin="round" stroke-linecap="round" clip-path="url(#car1)"/>
<path d="M216.00,132.00 C216.42,134.82 217.63,142.72 218.50,148.90 C219.37,155.08 220.27,162.75 221.20,169.10 C222.13,175.45 223.05,181.77 224.10,187.00 C225.15,192.23 226.20,197.13 227.50,200.50 C228.80,203.87 230.07,205.75 231.90,207.20 C233.73,208.65 236.45,208.65 238.50,209.20 C240.55,209.75 242.32,209.82 244.20,210.50 C246.08,211.18 247.93,212.55 249.80,213.30 C251.67,214.05 253.53,214.52 255.40,215.00 C257.27,215.48 259.13,215.92 261.00,216.20 C262.87,216.48 264.97,216.98 266.60,216.70 C268.23,216.42 269.40,216.07 270.80,214.50 C272.20,212.93 273.60,209.27 275.00,207.30 C276.40,205.33 278.15,203.57 279.20,202.70 C280.25,201.83 280.37,201.87 281.30,202.10 C282.23,202.33 283.28,203.00 284.80,204.10 C286.32,205.20 288.70,207.68 290.40,208.70 C292.10,209.72 293.07,209.72 295.00,210.20 C296.93,210.68 299.67,210.90 302.00,211.60 C304.33,212.30 306.67,213.70 309.00,214.40 C311.33,215.10 313.90,216.27 316.00,215.80 C318.10,215.33 319.72,213.95 321.60,211.60 C323.48,209.25 325.53,203.93 327.30,201.70 C329.07,199.47 330.80,198.55 332.20,198.20 C333.60,197.85 334.18,198.43 335.70,199.60 C337.22,200.77 339.20,203.83 341.30,205.20 C343.40,206.57 346.20,206.73 348.30,207.80 C350.40,208.87 351.70,210.47 353.90,211.60 C356.10,212.73 360.23,214.10 361.50,214.60" fill="none" stroke="#1BA1E2" stroke-width="1.8" stroke-linejoin="round" stroke-linecap="round" clip-path="url(#car1)"/>
<path d="M217.20,132.00 C217.60,134.82 218.72,142.72 219.60,148.90 C220.48,155.08 221.48,162.75 222.50,169.10 C223.52,175.45 224.68,182.13 225.70,187.00 C226.72,191.87 227.37,195.30 228.60,198.30 C229.83,201.30 231.53,203.42 233.10,205.00 C234.67,206.58 236.15,206.78 238.00,207.80 C239.85,208.82 242.23,210.13 244.20,211.10 C246.17,212.07 247.93,212.90 249.80,213.60 C251.67,214.30 253.53,214.83 255.40,215.30 C257.27,215.77 259.13,216.17 261.00,216.40 C262.87,216.63 264.97,216.93 266.60,216.70 C268.23,216.47 269.40,216.33 270.80,215.00 C272.20,213.67 273.72,210.33 275.00,208.70 C276.28,207.07 277.45,205.90 278.50,205.20 C279.55,204.50 280.25,204.38 281.30,204.50 C282.35,204.62 283.28,204.85 284.80,205.90 C286.32,206.95 288.53,209.70 290.40,210.80 C292.27,211.90 294.07,211.90 296.00,212.50 C297.93,213.10 299.83,213.70 302.00,214.40 C304.17,215.10 306.43,216.08 309.00,216.70 C311.57,217.32 315.07,218.95 317.40,218.10 C319.73,217.25 321.35,213.63 323.00,211.60 C324.65,209.57 326.08,207.23 327.30,205.90 C328.52,204.57 329.13,203.48 330.30,203.60 C331.47,203.72 332.70,205.50 334.30,206.60 C335.90,207.70 338.03,209.22 339.90,210.20 C341.77,211.18 343.63,211.68 345.50,212.50 C347.37,213.32 348.43,213.85 351.10,215.10 C353.77,216.35 359.77,219.18 361.50,220.00" fill="none" stroke="#E8322B" stroke-width="1.8" stroke-linejoin="round" stroke-linecap="round" clip-path="url(#car1)"/>
<path d="M226.80,245.00 C227.10,247.82 227.93,256.08 228.60,261.90 C229.27,267.72 229.87,274.28 230.80,279.90 C231.73,285.52 233.08,291.30 234.20,295.60 C235.32,299.90 236.32,302.63 237.50,305.70 C238.68,308.77 240.08,311.70 241.30,314.00 C242.52,316.30 243.52,317.88 244.80,319.50 C246.08,321.12 247.37,322.30 249.00,323.70 C250.63,325.10 252.50,326.90 254.60,327.90 C256.70,328.90 259.27,329.30 261.60,329.70 C263.93,330.10 266.73,330.48 268.60,330.30 C270.47,330.12 271.40,329.58 272.80,328.60 C274.20,327.62 275.60,325.62 277.00,324.40 C278.40,323.18 280.03,321.88 281.20,321.30 C282.37,320.72 282.83,320.38 284.00,320.90 C285.17,321.42 286.57,323.23 288.20,324.40 C289.83,325.57 291.73,326.83 293.80,327.90 C295.87,328.97 298.30,329.93 300.60,330.80 C302.90,331.67 305.27,332.47 307.60,333.10 C309.93,333.73 312.50,334.52 314.60,334.60 C316.70,334.68 318.55,335.28 320.20,333.60 C321.85,331.92 323.08,327.32 324.50,324.50 C325.92,321.68 327.50,318.30 328.70,316.70 C329.90,315.10 330.53,314.78 331.70,314.90 C332.87,315.02 334.33,316.05 335.70,317.40 C337.07,318.75 338.27,321.23 339.90,323.00 C341.53,324.77 343.63,326.58 345.50,328.00 C347.37,329.42 349.23,330.45 351.10,331.50 C352.97,332.55 354.97,333.78 356.70,334.30 C358.43,334.82 360.70,334.55 361.50,334.60" fill="none" stroke="#111" stroke-width="1.8" stroke-linejoin="round" stroke-linecap="round" clip-path="url(#car2)"/>
<path d="M215.20,252.00 C215.42,252.33 215.95,252.35 216.50,254.00 C217.05,255.65 217.80,257.58 218.50,261.90 C219.20,266.22 219.77,273.55 220.70,279.90 C221.63,286.25 222.97,294.40 224.10,300.00 C225.23,305.60 226.20,310.50 227.50,313.50 C228.80,316.50 230.65,317.03 231.90,318.00 C233.15,318.97 233.65,319.13 235.00,319.30 C236.35,319.47 238.60,319.13 240.00,319.00 C241.40,318.87 242.13,318.18 243.40,318.50 C244.67,318.82 245.97,319.57 247.60,320.90 C249.23,322.23 251.10,325.10 253.20,326.50 C255.30,327.90 257.73,328.72 260.20,329.30 C262.67,329.88 266.03,330.13 268.00,330.00 C269.97,329.87 270.73,329.32 272.00,328.50 C273.27,327.68 274.30,326.02 275.60,325.10 C276.90,324.18 278.17,323.23 279.80,323.00 C281.43,322.77 283.53,323.47 285.40,323.70 C287.27,323.93 289.37,324.68 291.00,324.40 C292.63,324.12 293.48,322.97 295.20,322.00 C296.92,321.03 299.47,318.67 301.30,318.60 C303.13,318.53 304.45,320.27 306.20,321.60 C307.95,322.93 309.93,325.42 311.80,326.60 C313.67,327.78 315.53,328.63 317.40,328.70 C319.27,328.77 321.12,327.70 323.00,327.00 C324.88,326.30 326.58,325.08 328.70,324.50 C330.82,323.92 333.37,323.93 335.70,323.50 C338.03,323.07 340.37,322.22 342.70,321.90 C345.03,321.58 347.60,321.17 349.70,321.60 C351.80,322.03 353.33,323.37 355.30,324.50 C357.27,325.63 360.47,327.75 361.50,328.40" fill="none" stroke="#1BA1E2" stroke-width="1.8" stroke-linejoin="round" stroke-linecap="round" clip-path="url(#car2)"/>
<path d="M218.70,245.00 C218.97,247.82 219.67,256.08 220.30,261.90 C220.93,267.72 221.68,273.92 222.50,279.90 C223.32,285.88 224.37,292.57 225.20,297.80 C226.03,303.03 226.57,307.93 227.50,311.30 C228.43,314.67 229.55,316.50 230.80,318.00 C232.05,319.50 233.60,319.93 235.00,320.30 C236.40,320.67 237.80,320.45 239.20,320.20 C240.60,319.95 242.23,318.68 243.40,318.80 C244.57,318.92 245.03,319.85 246.20,320.90 C247.37,321.95 248.77,323.82 250.40,325.10 C252.03,326.38 253.90,327.78 256.00,328.60 C258.10,329.42 260.67,329.77 263.00,330.00 C265.33,330.23 268.25,330.35 270.00,330.00 C271.75,329.65 272.10,328.95 273.50,327.90 C274.90,326.85 277.12,324.52 278.40,323.70 C279.68,322.88 280.03,322.88 281.20,323.00 C282.37,323.12 284.12,323.82 285.40,324.40 C286.68,324.98 287.73,326.38 288.90,326.50 C290.07,326.62 291.23,326.05 292.40,325.10 C293.57,324.15 294.65,321.80 295.90,320.80 C297.15,319.80 298.65,318.97 299.90,319.10 C301.15,319.23 302.12,320.35 303.40,321.60 C304.68,322.85 305.73,325.23 307.60,326.60 C309.47,327.97 312.73,329.33 314.60,329.80 C316.47,330.27 317.40,329.93 318.80,329.40 C320.20,328.87 321.35,327.42 323.00,326.60 C324.65,325.78 326.82,324.58 328.70,324.50 C330.58,324.42 332.43,326.22 334.30,326.10 C336.17,325.98 338.27,324.55 339.90,323.80 C341.53,323.05 342.70,321.60 344.10,321.60 C345.50,321.60 346.67,322.50 348.30,323.80 C349.93,325.10 351.70,328.08 353.90,329.40 C356.10,330.72 360.23,331.32 361.50,331.70" fill="none" stroke="#E8322B" stroke-width="1.8" stroke-linejoin="round" stroke-linecap="round" clip-path="url(#car2)"/>
<rect x="24.5" y="20.5" width="187" height="98" fill="none" stroke="#666" stroke-width="1.1" rx="0" />
<rect x="24.5" y="133.5" width="187" height="98" fill="none" stroke="#666" stroke-width="1.1" rx="0" />
<rect x="24.5" y="246.5" width="187" height="98" fill="none" stroke="#666" stroke-width="1.1" rx="0" />
<text x="180.0" y="34" font-size="10.3" text-anchor="start" fill="#111" style="color:#111" font-weight="normal"  textLength="25.50" lengthAdjust="spacingAndGlyphs">HeLa</text>
<text x="130.2" y="146.8" font-size="10.3" text-anchor="start" fill="#111" style="color:#111" font-weight="normal"  textLength="75.10" lengthAdjust="spacingAndGlyphs">KO+RNF10-WT</text>
<text x="128.6" y="259.2" font-size="10.3" text-anchor="start" fill="#111" style="color:#111" font-weight="normal"  textLength="77.10" lengthAdjust="spacingAndGlyphs">KO+RNF10-Mut</text>
<line x1="101.2" y1="42.8" x2="106.9" y2="42.8" stroke="#111" stroke-width="2.2" stroke-linecap="round"/>
<text x="112.2" y="45.8" font-size="10.3" text-anchor="start" fill="#111" style="color:#111" font-weight="normal"  textLength="43.40" lengthAdjust="spacingAndGlyphs">si-control</text>
<line x1="101.2" y1="52.849999999999994" x2="106.9" y2="52.849999999999994" stroke="#E8322B" stroke-width="2.2" stroke-linecap="round"/>
<text x="112.2" y="55.849999999999994" font-size="10.3" text-anchor="start" fill="#111" style="color:#111" font-weight="normal"  textLength="37.80" lengthAdjust="spacingAndGlyphs">si-RPL7</text>
<line x1="101.2" y1="62.9" x2="106.9" y2="62.9" stroke="#1BA1E2" stroke-width="2.2" stroke-linecap="round"/>
<text x="112.2" y="65.9" font-size="10.3" text-anchor="start" fill="#111" style="color:#111" font-weight="normal"  textLength="42.30" lengthAdjust="spacingAndGlyphs">si-RPL11</text>
<text x="25.3" y="354" font-size="10.3" text-anchor="start" fill="#111" style="color:#111" font-weight="normal"  textLength="16.20" lengthAdjust="spacingAndGlyphs">free</text>
<text x="44.0" y="354" font-size="10.3" text-anchor="start" fill="#111" style="color:#111" font-weight="normal"  textLength="10.90" lengthAdjust="spacingAndGlyphs">40</text>
<text x="60.5" y="354" font-size="10.3" text-anchor="start" fill="#111" style="color:#111" font-weight="normal"  textLength="10.90" lengthAdjust="spacingAndGlyphs">60</text>
<text x="77.4" y="354" font-size="10.3" text-anchor="start" fill="#111" style="color:#111" font-weight="normal"  textLength="17.40" lengthAdjust="spacingAndGlyphs">80S</text>
<text x="127.2" y="354" font-size="10.3" text-anchor="start" fill="#111" style="color:#111" font-weight="normal"  textLength="50.90" lengthAdjust="spacingAndGlyphs">polysomes</text>
<text x="238.9" y="34.3" font-size="10.3" text-anchor="start" fill="#111" style="color:#111" font-weight="normal"  textLength="14.30" lengthAdjust="spacingAndGlyphs">1.5</text>
<text x="234.6" y="43.6" font-size="10.3" text-anchor="start" fill="#111" style="color:#111" font-weight="normal"  textLength="22.80" lengthAdjust="spacingAndGlyphs">-mer</text>
<line x1="243.5" y1="48.2" x2="243.5" y2="67" stroke="#000" stroke-width="1" />
<path d="M241.4,65.6 L245.6,65.6 L243.5,71.1 Z" fill="#000"/>
<text x="293.20000000000005" y="34.3" font-size="10.3" text-anchor="start" fill="#111" style="color:#111" font-weight="normal"  textLength="15.70" lengthAdjust="spacingAndGlyphs">2.5</text>
<text x="289.6" y="43.6" font-size="10.3" text-anchor="start" fill="#111" style="color:#111" font-weight="normal"  textLength="23.20" lengthAdjust="spacingAndGlyphs">-mer</text>
<line x1="301.1" y1="48.2" x2="301.1" y2="67" stroke="#000" stroke-width="1" />
<path d="M299.0,65.6 L303.20000000000005,65.6 L301.1,71.1 Z" fill="#000"/>
<text x="338.5" y="34.3" font-size="10.3" text-anchor="start" fill="#111" style="color:#111" font-weight="normal"  textLength="15.10" lengthAdjust="spacingAndGlyphs">3.5</text>
<text x="334.8" y="43.6" font-size="10.3" text-anchor="start" fill="#111" style="color:#111" font-weight="normal"  textLength="22.60" lengthAdjust="spacingAndGlyphs">-mer</text>
<line x1="346.5" y1="48.2" x2="346.5" y2="67" stroke="#000" stroke-width="1" />
<path d="M344.4,65.6 L348.6,65.6 L346.5,71.1 Z" fill="#000"/>
<text x="238.9" y="147.3" font-size="10.3" text-anchor="start" fill="#111" style="color:#111" font-weight="normal"  textLength="14.30" lengthAdjust="spacingAndGlyphs">1.5</text>
<text x="234.6" y="156.6" font-size="10.3" text-anchor="start" fill="#111" style="color:#111" font-weight="normal"  textLength="22.80" lengthAdjust="spacingAndGlyphs">-mer</text>
<line x1="243.5" y1="161.2" x2="243.5" y2="180" stroke="#000" stroke-width="1" />
<path d="M241.4,178.6 L245.6,178.6 L243.5,184.1 Z" fill="#000"/>
<text x="293.20000000000005" y="147.3" font-size="10.3" text-anchor="start" fill="#111" style="color:#111" font-weight="normal"  textLength="15.70" lengthAdjust="spacingAndGlyphs">2.5</text>
<text x="289.6" y="156.6" font-size="10.3" text-anchor="start" fill="#111" style="color:#111" font-weight="normal"  textLength="23.20" lengthAdjust="spacingAndGlyphs">-mer</text>
<line x1="301.1" y1="161.2" x2="301.1" y2="180" stroke="#000" stroke-width="1" />
<path d="M299.0,178.6 L303.20000000000005,178.6 L301.1,184.1 Z" fill="#000"/>
<text x="338.5" y="147.3" font-size="10.3" text-anchor="start" fill="#111" style="color:#111" font-weight="normal"  textLength="15.10" lengthAdjust="spacingAndGlyphs">3.5</text>
<text x="334.8" y="156.6" font-size="10.3" text-anchor="start" fill="#111" style="color:#111" font-weight="normal"  textLength="22.60" lengthAdjust="spacingAndGlyphs">-mer</text>
<line x1="346.5" y1="161.2" x2="346.5" y2="180" stroke="#000" stroke-width="1" />
<path d="M344.4,178.6 L348.6,178.6 L346.5,184.1 Z" fill="#000"/>
<text x="238.9" y="260.3" font-size="10.3" text-anchor="start" fill="#111" style="color:#111" font-weight="normal"  textLength="14.30" lengthAdjust="spacingAndGlyphs">1.5</text>
<text x="234.6" y="269.6" font-size="10.3" text-anchor="start" fill="#111" style="color:#111" font-weight="normal"  textLength="22.80" lengthAdjust="spacingAndGlyphs">-mer</text>
<line x1="243.5" y1="274.2" x2="243.5" y2="293" stroke="#000" stroke-width="1" />
<path d="M241.4,291.6 L245.6,291.6 L243.5,297.1 Z" fill="#000"/>
<text x="293.20000000000005" y="260.3" font-size="10.3" text-anchor="start" fill="#111" style="color:#111" font-weight="normal"  textLength="15.70" lengthAdjust="spacingAndGlyphs">2.5</text>
<text x="289.6" y="269.6" font-size="10.3" text-anchor="start" fill="#111" style="color:#111" font-weight="normal"  textLength="23.20" lengthAdjust="spacingAndGlyphs">-mer</text>
<line x1="301.1" y1="274.2" x2="301.1" y2="293" stroke="#000" stroke-width="1" />
<path d="M299.0,291.6 L303.20000000000005,291.6 L301.1,297.1 Z" fill="#000"/>
<text x="338.5" y="260.3" font-size="10.3" text-anchor="start" fill="#111" style="color:#111" font-weight="normal"  textLength="15.10" lengthAdjust="spacingAndGlyphs">3.5</text>
<text x="334.8" y="269.6" font-size="10.3" text-anchor="start" fill="#111" style="color:#111" font-weight="normal"  textLength="22.60" lengthAdjust="spacingAndGlyphs">-mer</text>
<line x1="346.5" y1="274.2" x2="346.5" y2="293" stroke="#000" stroke-width="1" />
<path d="M344.4,291.6 L348.6,291.6 L346.5,297.1 Z" fill="#000"/>
<line x1="282" y1="344" x2="282" y2="346.7" stroke="#666" stroke-width="1" />
<line x1="330" y1="344" x2="330" y2="346.7" stroke="#666" stroke-width="1" />
<text x="277.1" y="356.4" font-size="10.3" text-anchor="start" fill="#111" style="color:#111" font-weight="normal"  textLength="12.50" lengthAdjust="spacingAndGlyphs">di-</text>
<text x="312.1" y="356.4" font-size="10.3" text-anchor="start" fill="#111" style="color:#111" font-weight="normal"  textLength="35.50" lengthAdjust="spacingAndGlyphs">trisome</text>
<text x="382.6" y="11.5" font-size="15.5" text-anchor="start" fill="#000" style="color:#000" font-weight="bold" >b</text>
<text x="463.4" y="10" font-size="10.3" text-anchor="start" fill="#111" style="color:#111" font-weight="normal"  textLength="90.20" lengthAdjust="spacingAndGlyphs">ribosomal half-mers</text>
<line x1="437" y1="14" x2="578.6" y2="14" stroke="#333" stroke-width="1.3" />
<text x="481.2" y="23.1" font-size="8.2" text-anchor="start" fill="#7a7a7a" style="color:#7a7a7a" font-weight="normal"  textLength="11.00" lengthAdjust="spacingAndGlyphs">p =</text>
<text x="494.7" y="23.1" font-size="8.2" text-anchor="start" fill="#7a7a7a" style="color:#7a7a7a" font-weight="normal"  textLength="15.60" lengthAdjust="spacingAndGlyphs">0.99</text>
<text x="494.7" y="34.1" font-size="8.2" text-anchor="start" fill="#7a7a7a" style="color:#7a7a7a" font-weight="normal"  textLength="15.60" lengthAdjust="spacingAndGlyphs">0.08</text>
<text x="548.3" y="23.3" font-size="8.2" text-anchor="start" fill="#7a7a7a" style="color:#7a7a7a" font-weight="normal"  textLength="15.30" lengthAdjust="spacingAndGlyphs">0.44</text>
<text x="548.3" y="33.8" font-size="8.2" text-anchor="start" fill="#7a7a7a" style="color:#7a7a7a" font-weight="normal"  textLength="15.30" lengthAdjust="spacingAndGlyphs">0.08</text>
<path d="M494.5,27.6 L494.5,24.5 L520.8,24.5 L520.8,27.6" fill="none" stroke="#7a7a7a" stroke-width="1"/>
<path d="M494.5,38.6 L494.5,35.6 L507.3,35.6 L507.3,38.6" fill="none" stroke="#7a7a7a" stroke-width="1"/>
<path d="M547.5,27.6 L547.5,24.8 L574.3,24.8 L574.3,27.6" fill="none" stroke="#7a7a7a" stroke-width="1"/>
<path d="M547.5,38.6 L547.5,35.6 L560.8,35.6 L560.8,38.6" fill="none" stroke="#7a7a7a" stroke-width="1"/>
<text x="402.0" y="62.6" font-size="10.1" text-anchor="middle" fill="#111" style="color:#111" font-weight="normal" transform="rotate(-90 402.0 62.6)" >relative</text>
<text x="412.4" y="63.3" font-size="10.1" text-anchor="middle" fill="#111" style="color:#111" font-weight="normal" transform="rotate(-90 412.4 63.3)" >half-mer area (%)</text>
<line x1="429.1" y1="100.05" x2="433" y2="100.05" stroke="#555" stroke-width="0.9" />
<line x1="430.8" y1="91.78999999999999" x2="433" y2="91.78999999999999" stroke="#555" stroke-width="0.9" />
<line x1="429.1" y1="83.53" x2="433" y2="83.53" stroke="#555" stroke-width="0.9" />
<line x1="430.8" y1="75.27" x2="433" y2="75.27" stroke="#555" stroke-width="0.9" />
<line x1="429.1" y1="67.00999999999999" x2="433" y2="67.00999999999999" stroke="#555" stroke-width="0.9" />
<line x1="430.8" y1="58.75" x2="433" y2="58.75" stroke="#555" stroke-width="0.9" />
<line x1="429.1" y1="50.49" x2="433" y2="50.49" stroke="#555" stroke-width="0.9" />
<text x="424.3" y="102.95" font-size="8.2" text-anchor="start" fill="#444" style="color:#444" font-weight="normal"  textLength="4.00" lengthAdjust="spacingAndGlyphs">0</text>
<text x="420.2" y="86.43" font-size="8.2" text-anchor="start" fill="#444" style="color:#444" font-weight="normal"  textLength="8.10" lengthAdjust="spacingAndGlyphs">20</text>
<text x="420.2" y="69.91" font-size="8.2" text-anchor="start" fill="#444" style="color:#444" font-weight="normal"  textLength="8.10" lengthAdjust="spacingAndGlyphs">40</text>
<text x="420.2" y="53.39" font-size="8.2" text-anchor="start" fill="#444" style="color:#444" font-weight="normal"  textLength="8.10" lengthAdjust="spacingAndGlyphs">60</text>
<rect x="437.90000000000003" y="80.39999999999999" width="7.399999999999966" height="19.65" fill="#E9E9E9" stroke="#555" stroke-width="1.2" rx="0" />
<rect x="451.6" y="84.39999999999999" width="7.100000000000011" height="15.65" fill="#BDBDBD" stroke="#555" stroke-width="1.2" rx="0" />
<rect x="464.8" y="83.89999999999999" width="7.3" height="16.15" fill="#707070" stroke="#555" stroke-width="1.2" rx="0" />
<rect x="490.90000000000003" y="53.0" width="7.100000000000011" height="47.05" fill="#E9E9E9" stroke="#F0412A" stroke-width="1.2" rx="0" />
<rect x="504.40000000000003" y="74.3" width="7.299999999999943" height="25.749999999999993" fill="#BDBDBD" stroke="#F0412A" stroke-width="1.2" rx="0" />
<rect x="517.9" y="53.2" width="7.000000000000045" height="46.849999999999994" fill="#707070" stroke="#F0412A" stroke-width="1.2" rx="0" />
<rect x="543.9" y="53.0" width="7.100000000000068" height="47.05" fill="#E9E9E9" stroke="#1E9FE3" stroke-width="1.2" rx="0" />
<rect x="557.3000000000001" y="74.5" width="6.899999999999909" height="25.54999999999999" fill="#BDBDBD" stroke="#1E9FE3" stroke-width="1.2" rx="0" />
<rect x="570.8000000000001" y="55.0" width="6.499999999999932" height="45.05" fill="#707070" stroke="#1E9FE3" stroke-width="1.2" rx="0" />
<line x1="433" y1="42" x2="433" y2="100.8" stroke="#555" stroke-width="1.5" />
<line x1="429.1" y1="100.05" x2="582.8" y2="100.05" stroke="#555" stroke-width="1.5" />
<path d="M441.6,75.7 L441.6,83.2 M439.5,75.7 L443.70000000000005,75.7 M439.5,83.2 L443.70000000000005,83.2" stroke="#111" stroke-width="0.9" fill="none"/>
<circle cx="441.6" cy="75.9" r="1.35" fill="#000"/>
<circle cx="441.6" cy="79.6" r="1.35" fill="#000"/>
<circle cx="441.6" cy="83.0" r="1.35" fill="#000"/>
<path d="M455.1,79.3 L455.1,87.5 M453.0,79.3 L457.20000000000005,79.3 M453.0,87.5 L457.20000000000005,87.5" stroke="#111" stroke-width="0.9" fill="none"/>
<circle cx="455.1" cy="79.4" r="1.35" fill="#000"/>
<circle cx="455.1" cy="83.6" r="1.35" fill="#000"/>
<circle cx="455.1" cy="87.3" r="1.35" fill="#000"/>
<path d="M468.4,81.2 L468.4,83.6 M466.29999999999995,81.2 L470.5,81.2 M466.29999999999995,83.6 L470.5,83.6" stroke="#111" stroke-width="0.9" fill="none"/>
<circle cx="466.3" cy="83.3" r="1.35" fill="#000"/>
<circle cx="468.4" cy="81.5" r="1.35" fill="#000"/>
<circle cx="471.0" cy="83.3" r="1.35" fill="#000"/>
<path d="M494.8,42.5 L494.8,62.6 M492.7,42.5 L496.90000000000003,42.5 M492.7,62.6 L496.90000000000003,62.6" stroke="#111" stroke-width="0.9" fill="none"/>
<circle cx="491.6" cy="45.2" r="1.35" fill="#000"/>
<circle cx="497.6" cy="47.6" r="1.35" fill="#000"/>
<circle cx="494.8" cy="62.4" r="1.35" fill="#000"/>
<path d="M508.0,70.4 L508.0,77.6 M505.9,70.4 L510.1,70.4 M505.9,77.6 L510.1,77.6" stroke="#111" stroke-width="0.9" fill="none"/>
<circle cx="504.8" cy="71.8" r="1.35" fill="#000"/>
<circle cx="511.3" cy="71.8" r="1.35" fill="#000"/>
<circle cx="508.0" cy="77.6" r="1.35" fill="#000"/>
<path d="M521.3,45.8 L521.3,54.3 M519.1999999999999,45.8 L523.4,45.8 M519.1999999999999,54.3 L523.4,54.3" stroke="#111" stroke-width="0.9" fill="none"/>
<circle cx="518.9" cy="54.4" r="1.35" fill="#000"/>
<circle cx="521.3" cy="46.4" r="1.35" fill="#000"/>
<circle cx="523.8" cy="54.0" r="1.35" fill="#000"/>
<path d="M547.8,42.5 L547.8,62.5 M545.6999999999999,42.5 L549.9,42.5 M545.6999999999999,62.5 L549.9,62.5" stroke="#111" stroke-width="0.9" fill="none"/>
<circle cx="544.6" cy="46.3" r="1.35" fill="#000"/>
<circle cx="550.6" cy="46.7" r="1.35" fill="#000"/>
<circle cx="547.8" cy="62.4" r="1.35" fill="#000"/>
<path d="M560.8,70.5 L560.8,77.5 M558.6999999999999,70.5 L562.9,70.5 M558.6999999999999,77.5 L562.9,77.5" stroke="#111" stroke-width="0.9" fill="none"/>
<circle cx="557.9" cy="71.8" r="1.35" fill="#000"/>
<circle cx="563.6" cy="71.8" r="1.35" fill="#000"/>
<circle cx="560.8" cy="77.5" r="1.35" fill="#000"/>
<path d="M574.2,42.5 L574.2,66.6 M572.1,42.5 L576.3000000000001,42.5 M572.1,66.6 L576.3000000000001,66.6" stroke="#111" stroke-width="0.9" fill="none"/>
<circle cx="574.2" cy="43.9" r="1.35" fill="#000"/>
<circle cx="574.2" cy="51.0" r="1.35" fill="#000"/>
<circle cx="574.2" cy="66.2" r="1.35" fill="#000"/>
<line x1="436.5" y1="105.2" x2="473.7" y2="105.2" stroke="#111" stroke-width="1.3" />
<line x1="489.6" y1="105.2" x2="527.0" y2="105.2" stroke="#F0412A" stroke-width="1.2" />
<line x1="542.1" y1="105.2" x2="579.5" y2="105.2" stroke="#1E9FE3" stroke-width="1.2" />
<text x="434.3" y="116.8" font-size="10.1" text-anchor="start" fill="#111" style="color:#111" font-weight="normal"  textLength="41.10" lengthAdjust="spacingAndGlyphs">si-control</text>
<text x="489.9" y="116.8" font-size="10.1" text-anchor="start" fill="#F0412A" style="color:#F0412A" font-weight="normal"  textLength="36.90" lengthAdjust="spacingAndGlyphs">si-RPL7</text>
<text x="540.1" y="116.8" font-size="10.1" text-anchor="start" fill="#1E9FE3" style="color:#1E9FE3" font-weight="normal"  textLength="41.80" lengthAdjust="spacingAndGlyphs">si-RPL11</text>
<rect x="595.6" y="56.5" width="7.7" height="7.4" fill="#E6E6E6" stroke="#d0d0d0" stroke-width="0.6" rx="0" />
<text x="608.3" y="63.6" font-size="10.3" text-anchor="start" fill="#111" style="color:#111" font-weight="normal"  textLength="69.60" lengthAdjust="spacingAndGlyphs">HeLa partental</text>
<rect x="595.6" y="70.39999999999999" width="7.7" height="7.4" fill="#B4B4B4" stroke="#B4B4B4" stroke-width="0.6" rx="0" />
<text x="608.3" y="76.6" font-size="10.3" text-anchor="start" fill="#111" style="color:#111" font-weight="normal"  textLength="74.40" lengthAdjust="spacingAndGlyphs">KO+RNF10-WT</text>
<rect x="595.6" y="83.3" width="7.7" height="7.4" fill="#6E6E6E" stroke="#6E6E6E" stroke-width="0.6" rx="0" />
<text x="608.3" y="90.1" font-size="10.3" text-anchor="start" fill="#111" style="color:#111" font-weight="normal" textLength="77.4" lengthAdjust="spacingAndGlyphs">KO+RNF10-Mut</text>
<text x="382.9" y="140.7" font-size="15.6" text-anchor="start" fill="#000" style="color:#000" font-weight="bold" >c</text>
<text x="419.3" y="141.6" font-size="10.3" text-anchor="start" fill="#111" style="color:#111" font-weight="normal"  textLength="28.80" lengthAdjust="spacingAndGlyphs">17.5%</text>
<text x="475.6" y="141.6" font-size="10.3" text-anchor="start" fill="#111" style="color:#111" font-weight="normal"  textLength="79.40" lengthAdjust="spacingAndGlyphs">sucrose gradient</text>
<text x="584.8" y="141.6" font-size="10.3" text-anchor="start" fill="#111" style="color:#111" font-weight="normal"  textLength="20.60" lengthAdjust="spacingAndGlyphs">50%</text>
<rect x="609.8" y="145.5" width="53.2" height="97" fill="#FFFFE8" stroke="#FBB24E" stroke-width="1" rx="0" />
<rect x="609.8" y="245.5" width="53.2" height="99" fill="#FFFFE8" stroke="#FBB24E" stroke-width="1" rx="0" />
<rect x="477.9" y="208.6" width="54.6" height="30.6" fill="#FFFFE8" stroke="#FBB24E" stroke-width="1" rx="1" />
<rect x="481.8" y="306.4" width="52.8" height="33.0" fill="#FFFFE8" stroke="#FBB24E" stroke-width="1" rx="1" />
<path d="M420.80,146.00 C421.08,149.17 421.80,158.83 422.50,165.00 C423.20,171.17 424.25,179.00 425.00,183.00 C425.75,187.00 426.07,186.58 427.00,189.00 C427.93,191.42 429.30,195.25 430.60,197.50 C431.90,199.75 433.73,201.25 434.80,202.50 C435.87,203.75 436.30,204.67 437.00,205.00 C437.70,205.33 438.33,206.00 439.00,204.50 C439.67,203.00 440.42,200.08 441.00,196.00 C441.58,191.92 441.92,186.50 442.50,180.00 C443.08,173.50 443.87,157.00 444.50,157.00 C445.13,157.00 445.75,172.83 446.30,180.00 C446.85,187.17 447.18,194.67 447.80,200.00 C448.42,205.33 449.07,209.17 450.00,212.00 C450.93,214.83 452.23,215.75 453.40,217.00 C454.57,218.25 456.07,219.13 457.00,219.50 C457.93,219.87 458.08,220.23 459.00,219.20 C459.92,218.17 461.45,213.88 462.50,213.30 C463.55,212.72 464.47,215.42 465.30,215.70 C466.13,215.98 466.80,216.98 467.50,215.00 C468.20,213.02 468.93,208.70 469.50,203.80 C470.07,198.90 470.57,192.07 470.90,185.60 C471.23,179.13 471.33,171.60 471.50,165.00 C471.67,158.40 471.78,152.67 471.90,146.00 C472.02,139.33 471.10,128.50 472.20,125.00 C473.30,121.50 477.42,121.50 478.50,125.00 C479.58,128.50 478.57,139.33 478.70,146.00 C478.83,152.67 479.05,159.33 479.30,165.00 C479.55,170.67 479.73,174.70 480.20,180.00 C480.67,185.30 481.52,191.80 482.10,196.80 C482.68,201.80 483.22,206.30 483.70,210.00 C484.18,213.70 484.30,216.15 485.00,219.00 C485.70,221.85 486.60,225.43 487.90,227.10 C489.20,228.77 491.28,228.93 492.80,229.00 C494.32,229.07 495.48,228.08 497.00,227.50 C498.52,226.92 500.48,225.58 501.90,225.50 C503.32,225.42 504.15,226.33 505.50,227.00 C506.85,227.67 508.55,229.00 510.00,229.50 C511.45,230.00 513.03,230.92 514.20,230.00 C515.37,229.08 515.95,226.23 517.00,224.00 C518.05,221.77 519.10,217.25 520.50,216.60 C521.90,215.95 523.88,218.58 525.40,220.10 C526.92,221.62 528.50,224.55 529.60,225.70 C530.70,226.85 531.18,229.33 532.00,227.00 C532.82,224.67 533.73,214.60 534.50,211.70 C535.27,208.80 535.78,209.13 536.60,209.60 C537.42,210.07 538.23,212.17 539.40,214.50 C540.57,216.83 542.22,224.42 543.60,223.60 C544.98,222.78 546.57,212.68 547.70,209.60 C548.83,206.52 549.20,204.22 550.40,205.10 C551.60,205.98 553.72,214.45 554.90,214.90 C556.08,215.35 556.47,209.88 557.50,207.80 C558.53,205.72 559.75,202.10 561.10,202.40 C562.45,202.70 564.10,209.75 565.60,209.60 C567.10,209.45 568.75,202.25 570.10,201.50 C571.45,200.75 572.50,205.40 573.70,205.10 C574.90,204.80 576.12,200.90 577.30,199.70 C578.48,198.50 579.47,198.43 580.80,197.90 C582.13,197.37 583.50,196.50 585.30,196.50 C587.10,196.50 589.65,197.07 591.60,197.90 C593.55,198.73 595.22,200.00 597.00,201.50 C598.78,203.00 600.63,204.98 602.30,206.90 C603.97,208.82 606.22,211.98 607.00,213.00" fill="none" stroke="#B0B0B0" stroke-width="1.15" stroke-linejoin="round" stroke-linecap="round" clip-path="url(#cc1)"/>
<path d="M419.70,154.00 C420.00,155.83 420.85,161.33 421.50,165.00 C422.15,168.67 422.77,172.83 423.60,176.00 C424.43,179.17 425.45,180.90 426.50,184.00 C427.55,187.10 428.75,191.67 429.90,194.60 C431.05,197.53 432.23,199.85 433.40,201.60 C434.57,203.35 435.97,204.52 436.90,205.10 C437.83,205.68 438.18,207.32 439.00,205.10 C439.82,202.88 440.87,195.30 441.80,191.80 C442.73,188.30 443.78,184.33 444.60,184.10 C445.42,183.87 446.08,186.83 446.70,190.40 C447.32,193.97 447.50,201.15 448.30,205.50 C449.10,209.85 450.30,213.75 451.50,216.50 C452.70,219.25 454.25,220.67 455.50,222.00 C456.75,223.33 457.83,224.38 459.00,224.50 C460.17,224.62 461.33,222.53 462.50,222.70 C463.67,222.87 464.72,225.62 466.00,225.50 C467.28,225.38 469.15,224.92 470.20,222.00 C471.25,219.08 471.72,212.90 472.30,208.00 C472.88,203.10 473.20,198.88 473.70,192.60 C474.20,186.32 474.78,170.40 475.30,170.30 C475.82,170.20 476.37,185.25 476.80,192.00 C477.23,198.75 477.45,206.30 477.90,210.80 C478.35,215.30 478.88,217.10 479.50,219.00 C480.12,220.90 480.78,221.08 481.60,222.20 C482.42,223.32 483.23,224.77 484.40,225.70 C485.57,226.63 487.20,226.98 488.60,227.80 C490.00,228.62 491.40,229.78 492.80,230.60 C494.20,231.42 495.72,232.82 497.00,232.70 C498.28,232.58 499.68,230.72 500.50,229.90 C501.32,229.08 501.32,227.80 501.90,227.80 C502.48,227.80 502.95,229.55 504.00,229.90 C505.05,230.25 507.12,229.75 508.20,229.90 C509.28,230.05 509.50,230.42 510.50,230.80 C511.50,231.18 512.88,232.35 514.20,232.20 C515.52,232.05 516.77,230.40 518.40,229.90 C520.03,229.40 522.37,229.08 524.00,229.20 C525.63,229.32 526.80,230.02 528.20,230.60 C529.60,231.18 530.77,232.47 532.40,232.70 C534.03,232.93 536.13,232.00 538.00,232.00 C539.87,232.00 541.93,232.55 543.60,232.70 C545.27,232.85 546.42,233.02 548.00,232.90 C549.58,232.78 551.52,231.85 553.10,232.00 C554.68,232.15 555.87,233.57 557.50,233.80 C559.13,234.03 560.80,233.25 562.90,233.40 C565.00,233.55 567.12,234.18 570.10,234.70 C573.08,235.22 577.22,236.07 580.80,236.50 C584.38,236.93 587.23,236.85 591.60,237.30 C595.97,237.75 604.43,238.88 607.00,239.20" fill="none" stroke="#1BA1E2" stroke-width="1.15" stroke-linejoin="round" stroke-linecap="round" clip-path="url(#cc1)"/>
<path d="M419.90,146.00 C420.28,148.83 421.30,156.67 422.20,163.00 C423.10,169.33 424.53,180.00 425.30,184.00 C426.07,188.00 425.92,185.00 426.80,187.00 C427.68,189.00 429.27,193.68 430.60,196.00 C431.93,198.32 433.52,199.62 434.80,200.90 C436.08,202.18 437.48,205.68 438.30,203.70 C439.12,201.72 439.23,193.78 439.70,189.00 C440.17,184.22 440.58,180.17 441.10,175.00 C441.62,169.83 442.22,162.75 442.80,158.00 C443.38,153.25 444.03,145.33 444.60,146.50 C445.17,147.67 445.75,158.58 446.20,165.00 C446.65,171.42 446.92,179.50 447.30,185.00 C447.68,190.50 448.00,194.33 448.50,198.00 C449.00,201.67 449.48,204.05 450.30,207.00 C451.12,209.95 452.18,213.32 453.40,215.70 C454.62,218.08 456.20,220.48 457.60,221.30 C459.00,222.12 460.40,220.48 461.80,220.60 C463.20,220.72 464.72,222.00 466.00,222.00 C467.28,222.00 468.57,222.93 469.50,220.60 C470.43,218.27 471.02,212.90 471.60,208.00 C472.18,203.10 472.57,197.53 473.00,191.20 C473.43,184.87 473.82,175.53 474.20,170.00 C474.58,164.47 474.93,158.00 475.30,158.00 C475.67,158.00 476.03,164.33 476.40,170.00 C476.77,175.67 477.15,186.17 477.50,192.00 C477.85,197.83 478.03,201.33 478.50,205.00 C478.97,208.67 479.63,211.42 480.30,214.00 C480.97,216.58 481.63,219.45 482.50,220.50 C483.37,221.55 484.48,219.67 485.50,220.30 C486.52,220.93 487.38,222.93 488.60,224.30 C489.82,225.67 491.40,227.68 492.80,228.50 C494.20,229.32 495.48,230.02 497.00,229.20 C498.52,228.38 500.62,224.30 501.90,223.60 C503.18,222.90 503.77,225.47 504.70,225.00 C505.63,224.53 506.68,222.20 507.50,220.80 C508.32,219.40 508.90,216.60 509.60,216.60 C510.30,216.60 511.13,219.52 511.70,220.80 C512.27,222.08 512.35,223.25 513.00,224.30 C513.65,225.35 514.70,227.33 515.60,227.10 C516.50,226.87 517.35,223.95 518.40,222.90 C519.45,221.85 520.97,220.92 521.90,220.80 C522.83,220.68 523.07,222.90 524.00,222.20 C524.93,221.50 526.45,216.72 527.50,216.60 C528.55,216.48 529.37,219.92 530.30,221.50 C531.23,223.08 532.05,225.52 533.10,226.10 C534.15,226.68 535.43,225.88 536.60,225.00 C537.77,224.12 538.93,220.92 540.10,220.80 C541.27,220.68 542.70,223.93 543.60,224.30 C544.50,224.67 544.67,223.07 545.50,223.00 C546.33,222.93 547.48,224.20 548.60,223.90 C549.72,223.60 551.00,221.35 552.20,221.20 C553.40,221.05 554.62,222.10 555.80,223.00 C556.98,223.90 557.97,226.60 559.30,226.60 C560.63,226.60 562.30,223.23 563.80,223.00 C565.30,222.77 566.95,224.97 568.30,225.20 C569.65,225.43 570.40,224.23 571.90,224.40 C573.40,224.57 575.22,225.48 577.30,226.20 C579.38,226.92 582.02,227.73 584.40,228.70 C586.78,229.67 589.20,231.22 591.60,232.00 C594.00,232.78 596.23,232.75 598.80,233.40 C601.37,234.05 605.63,235.48 607.00,235.90" fill="none" stroke="#E8322B" stroke-width="1.15" stroke-linejoin="round" stroke-linecap="round" clip-path="url(#cc1)"/>
<path d="M419.70,158.60 C420.00,160.50 420.85,165.77 421.50,170.00 C422.15,174.23 422.78,180.60 423.60,184.00 C424.42,187.40 425.23,187.82 426.40,190.40 C427.57,192.98 429.20,197.17 430.60,199.50 C432.00,201.83 433.75,203.12 434.80,204.40 C435.85,205.68 436.20,206.85 436.90,207.20 C437.60,207.55 438.32,208.03 439.00,206.50 C439.68,204.97 440.42,200.92 441.00,198.00 C441.58,195.08 442.02,190.85 442.50,189.00 C442.98,187.15 443.45,186.23 443.90,186.90 C444.35,187.57 444.67,189.95 445.20,193.00 C445.73,196.05 446.32,201.42 447.10,205.20 C447.88,208.98 448.85,213.48 449.90,215.70 C450.95,217.92 452.12,217.68 453.40,218.50 C454.68,219.32 456.55,221.88 457.60,220.60 C458.65,219.32 458.88,214.53 459.70,210.80 C460.52,207.07 461.45,198.90 462.50,198.20 C463.55,197.50 465.07,205.67 466.00,206.60 C466.93,207.53 467.45,206.83 468.10,203.80 C468.75,200.77 469.52,194.03 469.90,188.40 C470.28,182.77 470.25,177.07 470.40,170.00 C470.55,162.93 470.70,153.50 470.80,146.00 C470.90,138.50 469.55,128.50 471.00,125.00 C472.45,121.50 478.08,121.50 479.50,125.00 C480.92,128.50 479.45,138.50 479.50,146.00 C479.55,153.50 479.62,163.33 479.80,170.00 C479.98,176.67 480.10,180.83 480.60,186.00 C481.10,191.17 482.15,196.33 482.80,201.00 C483.45,205.67 483.97,210.83 484.50,214.00 C485.03,217.17 485.32,218.05 486.00,220.00 C486.68,221.95 487.47,224.28 488.60,225.70 C489.73,227.12 491.40,228.15 492.80,228.50 C494.20,228.85 495.72,228.38 497.00,227.80 C498.28,227.22 499.68,225.58 500.50,225.00 C501.32,224.42 501.08,223.72 501.90,224.30 C502.72,224.88 503.88,227.33 505.40,228.50 C506.92,229.67 509.53,230.48 511.00,231.30 C512.47,232.12 513.20,234.22 514.20,233.40 C515.20,232.58 515.95,229.08 517.00,226.40 C518.05,223.72 519.33,218.00 520.50,217.30 C521.67,216.60 522.72,220.57 524.00,222.20 C525.28,223.83 526.92,225.58 528.20,227.10 C529.48,228.62 530.88,231.88 531.70,231.30 C532.52,230.72 532.52,226.40 533.10,223.60 C533.68,220.80 534.50,216.37 535.20,214.50 C535.90,212.63 536.48,211.82 537.30,212.40 C538.12,212.98 539.05,215.55 540.10,218.00 C541.15,220.45 542.55,226.77 543.60,227.10 C544.65,227.43 545.58,222.68 546.40,220.00 C547.22,217.32 547.83,212.92 548.50,211.00 C549.17,209.08 549.82,208.00 550.40,208.50 C550.98,209.00 551.40,211.73 552.00,214.00 C552.60,216.27 553.37,220.60 554.00,222.10 C554.63,223.60 555.07,224.20 555.80,223.00 C556.53,221.80 557.52,217.28 558.40,214.90 C559.28,212.52 559.90,208.25 561.10,208.70 C562.30,209.15 564.40,216.85 565.60,217.60 C566.80,218.35 567.40,214.68 568.30,213.20 C569.20,211.72 570.10,208.85 571.00,208.70 C571.90,208.55 572.80,212.30 573.70,212.30 C574.60,212.30 575.52,209.15 576.40,208.70 C577.28,208.25 578.12,209.75 579.00,209.60 C579.88,209.45 580.20,208.25 581.70,207.80 C583.20,207.35 586.05,206.90 588.00,206.90 C589.95,206.90 591.60,207.27 593.40,207.80 C595.20,208.33 597.17,209.20 598.80,210.10 C600.43,211.00 601.83,211.80 603.20,213.20 C604.57,214.60 606.37,217.62 607.00,218.50" fill="none" stroke="#111" stroke-width="1.15" stroke-linejoin="round" stroke-linecap="round" clip-path="url(#cc1)"/>
<path d="M419.70,245.70 C419.98,248.22 420.70,256.33 421.40,260.80 C422.10,265.27 422.93,269.70 423.90,272.50 C424.87,275.30 426.37,276.62 427.20,277.60 C428.03,278.58 427.92,277.98 428.90,278.40 C429.88,278.82 431.83,279.63 433.10,280.10 C434.37,280.57 435.38,280.50 436.50,281.20 C437.62,281.90 438.68,284.77 439.80,284.30 C440.92,283.83 442.28,279.88 443.20,278.40 C444.12,276.92 444.58,275.13 445.30,275.40 C446.02,275.67 446.72,278.07 447.50,280.00 C448.28,281.93 449.17,284.67 450.00,287.00 C450.83,289.33 451.67,291.78 452.50,294.00 C453.33,296.22 454.02,298.13 455.00,300.30 C455.98,302.47 457.28,305.03 458.40,307.00 C459.52,308.97 460.77,311.10 461.70,312.10 C462.63,313.10 463.32,314.35 464.00,313.00 C464.68,311.65 465.30,306.08 465.80,304.00 C466.30,301.92 466.53,300.50 467.00,300.50 C467.47,300.50 467.93,301.92 468.60,304.00 C469.27,306.08 470.27,310.58 471.00,313.00 C471.73,315.42 472.40,317.42 473.00,318.50 C473.60,319.58 474.05,320.58 474.60,319.50 C475.15,318.42 475.83,315.58 476.30,312.00 C476.77,308.42 477.08,303.33 477.40,298.00 C477.72,292.67 477.93,286.00 478.20,280.00 C478.47,274.00 478.67,267.07 479.00,262.00 C479.33,256.93 479.78,249.60 480.20,249.60 C480.62,249.60 481.15,256.93 481.50,262.00 C481.85,267.07 481.97,274.50 482.30,280.00 C482.63,285.50 483.02,290.33 483.50,295.00 C483.98,299.67 484.68,304.07 485.20,308.00 C485.72,311.93 486.05,315.60 486.60,318.60 C487.15,321.60 487.77,324.10 488.50,326.00 C489.23,327.90 489.92,328.83 491.00,330.00 C492.08,331.17 493.63,332.25 495.00,333.00 C496.37,333.75 498.03,334.67 499.20,334.50 C500.37,334.33 501.18,333.00 502.00,332.00 C502.82,331.00 503.28,328.42 504.10,328.50 C504.92,328.58 505.85,331.32 506.90,332.50 C507.95,333.68 509.12,334.90 510.40,335.60 C511.68,336.30 513.32,336.70 514.60,336.70 C515.88,336.70 517.17,336.80 518.10,335.60 C519.03,334.40 519.55,331.77 520.20,329.50 C520.85,327.23 521.30,322.58 522.00,322.00 C522.70,321.42 523.53,324.32 524.40,326.00 C525.27,327.68 526.03,330.85 527.20,332.10 C528.37,333.35 530.23,333.15 531.40,333.50 C532.57,333.85 533.50,335.28 534.20,334.20 C534.90,333.12 535.13,329.28 535.60,327.00 C536.07,324.72 536.47,322.33 537.00,320.50 C537.53,318.67 538.10,316.08 538.80,316.00 C539.50,315.92 540.33,317.92 541.20,320.00 C542.07,322.08 543.08,326.83 544.00,328.50 C544.92,330.17 545.68,331.58 546.70,330.00 C547.72,328.42 549.17,321.83 550.10,319.00 C551.03,316.17 551.55,313.33 552.30,313.00 C553.05,312.67 553.67,314.58 554.60,317.00 C555.53,319.42 556.92,327.33 557.90,327.50 C558.88,327.67 559.75,320.42 560.50,318.00 C561.25,315.58 561.90,314.08 562.40,313.00 C562.90,311.92 562.93,310.42 563.50,311.50 C564.07,312.58 565.05,318.83 565.80,319.50 C566.55,320.17 567.25,317.08 568.00,315.50 C568.75,313.92 569.55,310.08 570.30,310.00 C571.05,309.92 571.75,315.00 572.50,315.00 C573.25,315.00 574.05,311.00 574.80,310.00 C575.55,309.00 576.07,309.58 577.00,309.00 C577.93,308.42 579.10,307.10 580.40,306.50 C581.70,305.90 583.32,304.85 584.80,305.40 C586.28,305.95 587.42,308.13 589.30,309.80 C591.18,311.47 593.85,313.33 596.10,315.40 C598.35,317.47 600.98,320.27 602.80,322.20 C604.62,324.13 606.30,326.20 607.00,327.00" fill="none" stroke="#B0B0B0" stroke-width="1.15" stroke-linejoin="round" stroke-linecap="round" clip-path="url(#cc2)"/>
<path d="M419.60,296.60 C420.05,297.88 421.27,302.08 422.30,304.30 C423.33,306.52 424.52,308.62 425.80,309.90 C427.08,311.18 428.60,311.77 430.00,312.00 C431.40,312.23 432.78,311.88 434.20,311.30 C435.62,310.72 437.37,309.55 438.50,308.50 C439.63,307.45 440.15,306.05 441.00,305.00 C441.85,303.95 442.57,301.88 443.60,302.20 C444.63,302.52 445.83,304.57 447.20,306.90 C448.57,309.23 450.25,313.77 451.80,316.20 C453.35,318.63 454.95,320.28 456.50,321.50 C458.05,322.72 459.82,323.12 461.10,323.50 C462.38,323.88 463.17,323.47 464.20,323.80 C465.23,324.13 466.03,324.75 467.30,325.50 C468.57,326.25 470.43,328.05 471.80,328.30 C473.17,328.55 474.32,328.00 475.50,327.00 C476.68,326.00 478.07,323.47 478.90,322.30 C479.73,321.13 479.92,319.63 480.50,320.00 C481.08,320.37 481.62,322.63 482.40,324.50 C483.18,326.37 483.80,329.73 485.20,331.20 C486.60,332.67 489.17,332.68 490.80,333.30 C492.43,333.92 492.90,334.75 495.00,334.90 C497.10,335.05 500.60,334.20 503.40,334.20 C506.20,334.20 509.37,334.90 511.80,334.90 C514.23,334.90 515.20,334.37 518.00,334.20 C520.80,334.03 525.77,333.78 528.60,333.90 C531.43,334.02 533.10,334.72 535.00,334.90 C536.90,335.08 537.30,334.77 540.00,335.00 C542.70,335.23 547.47,335.93 551.20,336.30 C554.93,336.67 558.67,336.93 562.40,337.20 C566.13,337.47 569.87,337.68 573.60,337.90 C577.33,338.12 581.05,338.32 584.80,338.50 C588.55,338.68 592.40,338.72 596.10,339.00 C599.80,339.28 605.18,340.00 607.00,340.20" fill="none" stroke="#1BA1E2" stroke-width="1.15" stroke-linejoin="round" stroke-linecap="round" clip-path="url(#cc2)"/>
<path d="M419.60,284.60 C419.93,286.25 420.80,291.80 421.60,294.50 C422.40,297.20 423.47,299.87 424.40,300.80 C425.33,301.73 426.27,300.50 427.20,300.10 C428.13,299.70 428.83,298.75 430.00,298.40 C431.17,298.05 433.03,298.30 434.20,298.00 C435.37,297.70 436.05,297.53 437.00,296.60 C437.95,295.67 438.87,294.03 439.90,292.40 C440.93,290.77 442.27,288.37 443.20,286.80 C444.13,285.23 444.78,283.13 445.50,283.00 C446.22,282.87 446.78,284.00 447.50,286.00 C448.22,288.00 449.05,292.50 449.80,295.00 C450.55,297.50 451.15,299.27 452.00,301.00 C452.85,302.73 453.77,303.27 454.90,305.40 C456.03,307.53 457.67,311.67 458.80,313.80 C459.93,315.93 460.75,317.55 461.70,318.20 C462.65,318.85 463.65,317.85 464.50,317.70 C465.35,317.55 465.95,316.83 466.80,317.30 C467.65,317.77 468.58,319.42 469.60,320.50 C470.62,321.58 472.00,323.13 472.90,323.80 C473.80,324.47 474.35,325.13 475.00,324.50 C475.65,323.87 476.30,322.35 476.80,320.00 C477.30,317.65 477.57,314.23 478.00,310.40 C478.43,306.57 478.97,299.63 479.40,297.00 C479.83,294.37 480.18,293.67 480.60,294.60 C481.02,295.53 481.40,299.22 481.90,302.60 C482.40,305.98 483.12,312.00 483.60,314.90 C484.08,317.80 484.30,318.22 484.80,320.00 C485.30,321.78 485.60,323.97 486.60,325.60 C487.60,327.23 489.40,328.63 490.80,329.80 C492.20,330.97 493.37,331.87 495.00,332.60 C496.63,333.33 499.20,334.52 500.60,334.20 C502.00,333.88 502.58,331.40 503.40,330.70 C504.22,330.00 504.80,329.70 505.50,330.00 C506.20,330.30 506.67,332.32 507.60,332.50 C508.53,332.68 509.93,330.93 511.10,331.10 C512.27,331.27 513.32,333.27 514.60,333.50 C515.88,333.73 517.40,333.08 518.80,332.50 C520.20,331.92 521.72,330.13 523.00,330.00 C524.28,329.87 525.45,331.52 526.50,331.70 C527.55,331.88 528.37,330.80 529.30,331.10 C530.23,331.40 531.17,333.10 532.10,333.50 C533.03,333.90 533.85,333.80 534.90,333.50 C535.95,333.20 537.12,332.05 538.40,331.70 C539.68,331.35 541.22,331.12 542.60,331.40 C543.98,331.68 545.27,333.25 546.70,333.40 C548.13,333.55 549.70,332.30 551.20,332.30 C552.70,332.30 553.83,333.40 555.70,333.40 C557.57,333.40 560.17,332.48 562.40,332.30 C564.63,332.12 566.85,332.20 569.10,332.30 C571.35,332.40 573.28,332.45 575.90,332.90 C578.52,333.35 581.43,334.17 584.80,335.00 C588.17,335.83 592.40,337.10 596.10,337.90 C599.80,338.70 605.18,339.48 607.00,339.80" fill="none" stroke="#E8322B" stroke-width="1.15" stroke-linejoin="round" stroke-linecap="round" clip-path="url(#cc2)"/>
<path d="M419.60,276.00 C419.82,278.83 420.33,288.05 420.90,293.00 C421.47,297.95 422.07,302.03 423.00,305.70 C423.93,309.37 425.53,313.00 426.50,315.00 C427.47,317.00 427.65,316.73 428.80,317.70 C429.95,318.67 431.62,319.83 433.40,320.80 C435.18,321.77 437.97,324.02 439.50,323.50 C441.03,322.98 441.43,319.82 442.60,317.70 C443.77,315.58 445.47,311.18 446.50,310.80 C447.53,310.42 447.92,313.48 448.80,315.40 C449.68,317.32 450.52,320.25 451.80,322.30 C453.08,324.35 454.95,326.28 456.50,327.70 C458.05,329.12 460.10,330.75 461.10,330.80 C462.10,330.85 462.02,330.47 462.50,328.00 C462.98,325.53 463.48,320.43 464.00,316.00 C464.52,311.57 465.13,304.67 465.60,301.40 C466.07,298.13 466.33,296.40 466.80,296.40 C467.27,296.40 467.75,298.70 468.40,301.40 C469.05,304.10 469.95,309.42 470.70,312.60 C471.45,315.78 472.30,319.00 472.90,320.50 C473.50,322.00 473.73,322.72 474.30,321.60 C474.87,320.48 475.78,317.53 476.30,313.80 C476.82,310.07 477.12,304.00 477.40,299.20 C477.68,294.40 477.85,290.70 478.00,285.00 C478.15,279.30 478.22,271.50 478.30,265.00 C478.38,258.50 478.45,252.67 478.50,246.00 C478.55,239.33 477.92,228.50 478.60,225.00 C479.28,221.50 481.92,221.50 482.60,225.00 C483.28,228.50 482.55,238.83 482.70,246.00 C482.85,253.17 483.20,261.00 483.50,268.00 C483.80,275.00 484.17,282.37 484.50,288.00 C484.83,293.63 485.03,296.93 485.50,301.80 C485.97,306.67 486.53,313.00 487.30,317.20 C488.07,321.40 489.05,324.55 490.10,327.00 C491.15,329.45 492.70,330.82 493.60,331.90 C494.50,332.98 494.57,333.00 495.50,333.50 C496.43,334.00 498.12,335.25 499.20,334.90 C500.28,334.55 501.18,332.63 502.00,331.40 C502.82,330.17 503.28,327.38 504.10,327.50 C504.92,327.62 505.85,330.75 506.90,332.10 C507.95,333.45 509.12,334.83 510.40,335.60 C511.68,336.37 513.32,336.70 514.60,336.70 C515.88,336.70 517.17,336.95 518.10,335.60 C519.03,334.25 519.55,331.17 520.20,328.60 C520.85,326.03 521.30,320.78 522.00,320.20 C522.70,319.62 523.53,323.12 524.40,325.10 C525.27,327.08 526.03,330.70 527.20,332.10 C528.37,333.50 530.23,333.15 531.40,333.50 C532.57,333.85 533.50,335.48 534.20,334.20 C534.90,332.92 535.13,328.37 535.60,325.80 C536.07,323.23 536.47,320.72 537.00,318.80 C537.53,316.88 538.10,314.30 538.80,314.30 C539.50,314.30 540.33,316.53 541.20,318.80 C542.07,321.07 543.08,326.03 544.00,327.90 C544.92,329.77 545.68,331.70 546.70,330.00 C547.72,328.30 549.17,320.87 550.10,317.70 C551.03,314.53 551.55,311.38 552.30,311.00 C553.05,310.62 553.67,312.78 554.60,315.40 C555.53,318.02 556.92,326.60 557.90,326.70 C558.88,326.80 559.75,318.62 560.50,316.00 C561.25,313.38 561.90,312.03 562.40,311.00 C562.90,309.97 562.93,308.50 563.50,309.80 C564.07,311.10 565.05,318.05 565.80,318.80 C566.55,319.55 567.25,315.98 568.00,314.30 C568.75,312.62 569.55,308.70 570.30,308.70 C571.05,308.70 571.75,314.30 572.50,314.30 C573.25,314.30 574.05,309.75 574.80,308.70 C575.55,307.65 576.07,308.55 577.00,308.00 C577.93,307.45 579.10,306.03 580.40,305.40 C581.70,304.77 583.32,304.02 584.80,304.20 C586.28,304.38 587.42,305.37 589.30,306.50 C591.18,307.63 593.85,309.52 596.10,311.00 C598.35,312.48 600.98,314.07 602.80,315.40 C604.62,316.73 606.30,318.40 607.00,319.00" fill="none" stroke="#111" stroke-width="1.15" stroke-linejoin="round" stroke-linecap="round" clip-path="url(#cc2)"/>
<path d="M609.60,143.00 C610.00,145.80 611.13,154.67 612.00,159.80 C612.87,164.93 613.97,170.27 614.80,173.80 C615.63,177.33 616.30,179.13 617.00,181.00 C617.70,182.87 618.27,183.65 619.00,185.00 C619.73,186.35 620.65,188.02 621.40,189.10 C622.15,190.18 622.48,190.90 623.50,191.50 C624.52,192.10 626.38,193.08 627.50,192.70 C628.62,192.32 629.28,190.60 630.20,189.20 C631.12,187.80 632.07,184.65 633.00,184.30 C633.93,183.95 634.75,186.48 635.80,187.10 C636.85,187.72 638.13,187.35 639.30,188.00 C640.47,188.65 641.93,190.25 642.80,191.00 C643.67,191.75 643.68,193.50 644.50,192.50 C645.32,191.50 646.87,187.33 647.70,185.00 C648.53,182.67 648.95,179.78 649.50,178.50 C650.05,177.22 650.37,177.15 651.00,177.30 C651.63,177.45 652.33,178.58 653.30,179.40 C654.27,180.22 655.60,180.85 656.80,182.20 C658.00,183.55 659.38,187.45 660.50,187.50 C661.62,187.55 663.00,183.33 663.50,182.50" fill="none" stroke="#B0B0B0" stroke-width="1.3" stroke-linejoin="round" stroke-linecap="round" clip-path="url(#ccr1)"/>
<path d="M610.30,215.50 C610.63,217.47 611.37,224.28 612.30,227.30 C613.23,230.32 614.75,232.07 615.90,233.60 C617.05,235.13 618.28,235.88 619.20,236.50 C620.12,237.12 620.00,236.70 621.40,237.30 C622.80,237.90 625.75,240.38 627.60,240.10 C629.45,239.82 631.05,235.98 632.50,235.60 C633.95,235.22 635.05,237.70 636.30,237.80 C637.55,237.90 638.22,235.70 640.00,236.20 C641.78,236.70 644.98,240.68 647.00,240.80 C649.02,240.92 650.32,237.57 652.10,236.90 C653.88,236.23 655.80,236.20 657.70,236.80 C659.60,237.40 662.53,239.88 663.50,240.50" fill="none" stroke="#1BA1E2" stroke-width="1.4" stroke-linejoin="round" stroke-linecap="round" clip-path="url(#ccr1)"/>
<path d="M610.30,196.50 C610.48,197.68 610.92,201.50 611.40,203.60 C611.88,205.70 612.30,208.33 613.20,209.10 C614.10,209.87 615.43,207.30 616.80,208.20 C618.17,209.10 619.73,212.98 621.40,214.50 C623.07,216.02 625.28,217.45 626.80,217.30 C628.32,217.15 629.43,214.52 630.50,213.60 C631.57,212.68 632.30,211.80 633.20,211.80 C634.10,211.80 634.85,214.65 635.90,213.60 C636.95,212.55 638.28,205.80 639.50,205.50 C640.72,205.20 641.83,210.13 643.20,211.80 C644.57,213.47 646.18,215.65 647.70,215.50 C649.22,215.35 651.08,211.55 652.30,210.90 C653.52,210.25 654.10,212.67 655.00,211.60 C655.90,210.53 656.78,204.92 657.70,204.50 C658.62,204.08 659.53,207.43 660.50,209.10 C661.47,210.77 663.00,213.60 663.50,214.50" fill="none" stroke="#E8322B" stroke-width="1.4" stroke-linejoin="round" stroke-linecap="round" clip-path="url(#ccr1)"/>
<path d="M614.70,144.00 C615.07,145.23 616.18,149.23 616.90,151.40 C617.62,153.57 618.18,155.25 619.00,157.00 C619.82,158.75 620.63,160.50 621.80,161.90 C622.97,163.30 624.83,165.05 626.00,165.40 C627.17,165.75 627.87,164.70 628.80,164.00 C629.73,163.30 630.67,161.32 631.60,161.20 C632.53,161.08 633.23,162.48 634.40,163.30 C635.57,164.12 637.32,165.28 638.60,166.10 C639.88,166.92 640.93,167.50 642.10,168.20 C643.27,168.90 644.78,170.42 645.60,170.30 C646.42,170.18 646.42,169.25 647.00,167.50 C647.58,165.75 648.45,161.83 649.10,159.80 C649.75,157.77 650.20,155.53 650.90,155.30 C651.60,155.07 652.32,157.07 653.30,158.40 C654.28,159.73 655.63,161.78 656.80,163.30 C657.97,164.82 659.18,167.30 660.30,167.50 C661.42,167.70 662.97,165.00 663.50,164.50" fill="none" stroke="#111" stroke-width="1.45" stroke-linejoin="round" stroke-linecap="round" clip-path="url(#ccr1)"/>
<path d="M611.00,243.00 C611.28,245.80 612.07,254.67 612.70,259.80 C613.33,264.93 614.08,270.27 614.80,273.80 C615.52,277.33 616.37,278.63 617.00,281.00 C617.63,283.37 617.92,286.42 618.60,288.00 C619.28,289.58 620.33,289.72 621.10,290.50 C621.87,291.28 622.10,292.08 623.20,292.70 C624.30,293.32 626.57,294.48 627.70,294.20 C628.83,293.92 629.23,292.15 630.00,291.00 C630.77,289.85 631.55,287.55 632.30,287.30 C633.05,287.05 633.75,288.75 634.50,289.50 C635.25,290.25 635.35,290.72 636.80,291.80 C638.25,292.88 641.53,295.85 643.20,296.00 C644.87,296.15 645.92,294.53 646.80,292.70 C647.68,290.87 648.00,287.03 648.50,285.00 C649.00,282.97 649.02,280.12 649.80,280.50 C650.58,280.88 651.88,285.27 653.20,287.30 C654.52,289.33 656.48,291.50 657.70,292.70 C658.92,293.90 659.53,295.28 660.50,294.50 C661.47,293.72 663.00,289.08 663.50,288.00" fill="none" stroke="#B0B0B0" stroke-width="1.3" stroke-linejoin="round" stroke-linecap="round" clip-path="url(#ccr2)"/>
<path d="M610.30,327.00 C610.78,328.57 611.97,334.53 613.20,336.40 C614.43,338.27 616.03,337.67 617.70,338.20 C619.37,338.73 621.38,339.30 623.20,339.60 C625.02,339.90 626.78,340.18 628.60,340.00 C630.42,339.82 631.97,338.57 634.10,338.50 C636.23,338.43 638.98,339.28 641.40,339.60 C643.82,339.92 646.48,340.48 648.60,340.40 C650.72,340.32 651.62,339.00 654.10,339.10 C656.58,339.20 661.93,340.68 663.50,341.00" fill="none" stroke="#1BA1E2" stroke-width="1.4" stroke-linejoin="round" stroke-linecap="round" clip-path="url(#ccr2)"/>
<path d="M610.30,289.00 C610.48,291.13 610.92,298.15 611.40,301.80 C611.88,305.45 612.30,308.62 613.20,310.90 C614.10,313.18 615.43,314.28 616.80,315.50 C618.17,316.72 619.58,317.52 621.40,318.20 C623.22,318.88 625.88,320.05 627.70,319.60 C629.52,319.15 630.93,315.88 632.30,315.50 C633.67,315.12 634.70,317.22 635.90,317.30 C637.10,317.38 637.83,315.62 639.50,316.00 C641.17,316.38 644.07,319.68 645.90,319.60 C647.73,319.52 648.98,316.03 650.50,315.50 C652.02,314.97 653.75,316.28 655.00,316.40 C656.25,316.52 656.58,315.60 658.00,316.20 C659.42,316.80 662.58,319.37 663.50,320.00" fill="none" stroke="#E8322B" stroke-width="1.4" stroke-linejoin="round" stroke-linecap="round" clip-path="url(#ccr2)"/>
<path d="M614.50,243.00 C614.78,244.63 615.57,250.12 616.20,252.80 C616.83,255.48 617.48,257.23 618.30,259.10 C619.12,260.97 620.05,262.60 621.10,264.00 C622.15,265.40 623.55,266.80 624.60,267.50 C625.65,268.20 626.47,268.55 627.40,268.20 C628.33,267.85 629.32,266.38 630.20,265.40 C631.08,264.42 631.88,262.42 632.70,262.30 C633.52,262.18 634.12,263.83 635.10,264.70 C636.08,265.57 637.32,266.80 638.60,267.50 C639.88,268.20 641.63,268.55 642.80,268.90 C643.97,269.25 644.90,269.95 645.60,269.60 C646.30,269.25 646.48,268.67 647.00,266.80 C647.52,264.93 648.18,260.50 648.70,258.40 C649.22,256.30 649.45,254.20 650.10,254.20 C650.75,254.20 651.60,256.65 652.60,258.40 C653.60,260.15 654.93,263.07 656.10,264.70 C657.27,266.33 658.37,267.98 659.60,268.20 C660.83,268.42 662.85,266.37 663.50,266.00" fill="none" stroke="#111" stroke-width="1.45" stroke-linejoin="round" stroke-linecap="round" clip-path="url(#ccr2)"/>
<rect x="419.6" y="145.5" width="186.9" height="97" fill="none" stroke="#666" stroke-width="1.1" rx="0" />
<rect x="419.6" y="245.5" width="186.9" height="99" fill="none" stroke="#666" stroke-width="1.1" rx="0" />
<text x="415.2" y="194.6" font-size="10.5" text-anchor="middle" fill="#111" style="color:#111" font-weight="normal" transform="rotate(-90 415.2 194.6)" >absorbance 254 nm</text>
<text x="415.2" y="294.0" font-size="10.5" text-anchor="middle" fill="#111" style="color:#111" font-weight="normal" transform="rotate(-90 415.2 294.0)" >absorbance 254 nm</text>
<text x="574.2" y="157.8" font-size="10.3" text-anchor="start" fill="#111" style="color:#111" font-weight="normal"  textLength="25.40" lengthAdjust="spacingAndGlyphs">HeLa</text>
<text x="523.7" y="258.5" font-size="10.3" text-anchor="start" fill="#111" style="color:#111" font-weight="normal"  textLength="75.50" lengthAdjust="spacingAndGlyphs">KO+RNF10-WT</text>
<text x="508.3" y="167.9" font-size="10.3" text-anchor="start" fill="#111" style="color:#111" font-weight="normal"  textLength="37.90" lengthAdjust="spacingAndGlyphs">si-RPL7</text>
<line x1="495.8" y1="171.4" x2="559.0" y2="171.4" stroke="#333" stroke-width="1" />
<line x1="497.2" y1="179.3" x2="501.4" y2="179.3" stroke="#111" stroke-width="2.2" stroke-linecap="round"/>
<text x="506.0" y="182.3" font-size="10.3" text-anchor="start" fill="#111" style="color:#111" font-weight="normal"  textLength="15.70" lengthAdjust="spacingAndGlyphs">0 h</text>
<line x1="530.2" y1="179.3" x2="534.4" y2="179.3" stroke="#E8322B" stroke-width="2.2" stroke-linecap="round"/>
<text x="538.4" y="182.3" font-size="10.3" text-anchor="start" fill="#111" style="color:#111" font-weight="normal"  textLength="21.20" lengthAdjust="spacingAndGlyphs">28 h</text>
<line x1="497.2" y1="189.1" x2="501.4" y2="189.1" stroke="#AAAAAA" stroke-width="2.2" stroke-linecap="round"/>
<text x="506.0" y="192.1" font-size="10.3" text-anchor="start" fill="#111" style="color:#111" font-weight="normal"  textLength="15.70" lengthAdjust="spacingAndGlyphs">6 h</text>
<line x1="530.2" y1="189.1" x2="534.4" y2="189.1" stroke="#1BA1E2" stroke-width="2.2" stroke-linecap="round"/>
<text x="538.4" y="192.1" font-size="10.3" text-anchor="start" fill="#111" style="color:#111" font-weight="normal"  textLength="21.20" lengthAdjust="spacingAndGlyphs">42 h</text>
<text x="420.0" y="354.6" font-size="10.3" text-anchor="start" fill="#111" style="color:#111" font-weight="normal"  textLength="16.40" lengthAdjust="spacingAndGlyphs">free</text>
<text x="441.4" y="354.6" font-size="10.3" text-anchor="start" fill="#111" style="color:#111" font-weight="normal"  textLength="11.40" lengthAdjust="spacingAndGlyphs">40</text>
<text x="460.3" y="354.6" font-size="10.3" text-anchor="start" fill="#111" style="color:#111" font-weight="normal"  textLength="11.50" lengthAdjust="spacingAndGlyphs">60</text>
<text x="475.2" y="354.6" font-size="10.3" text-anchor="start" fill="#111" style="color:#111" font-weight="normal"  textLength="18.40" lengthAdjust="spacingAndGlyphs">80S</text>
<text x="526.3" y="354.6" font-size="10.3" text-anchor="start" fill="#111" style="color:#111" font-weight="normal"  textLength="50.70" lengthAdjust="spacingAndGlyphs">polysomes</text></svg>
</body></html>
